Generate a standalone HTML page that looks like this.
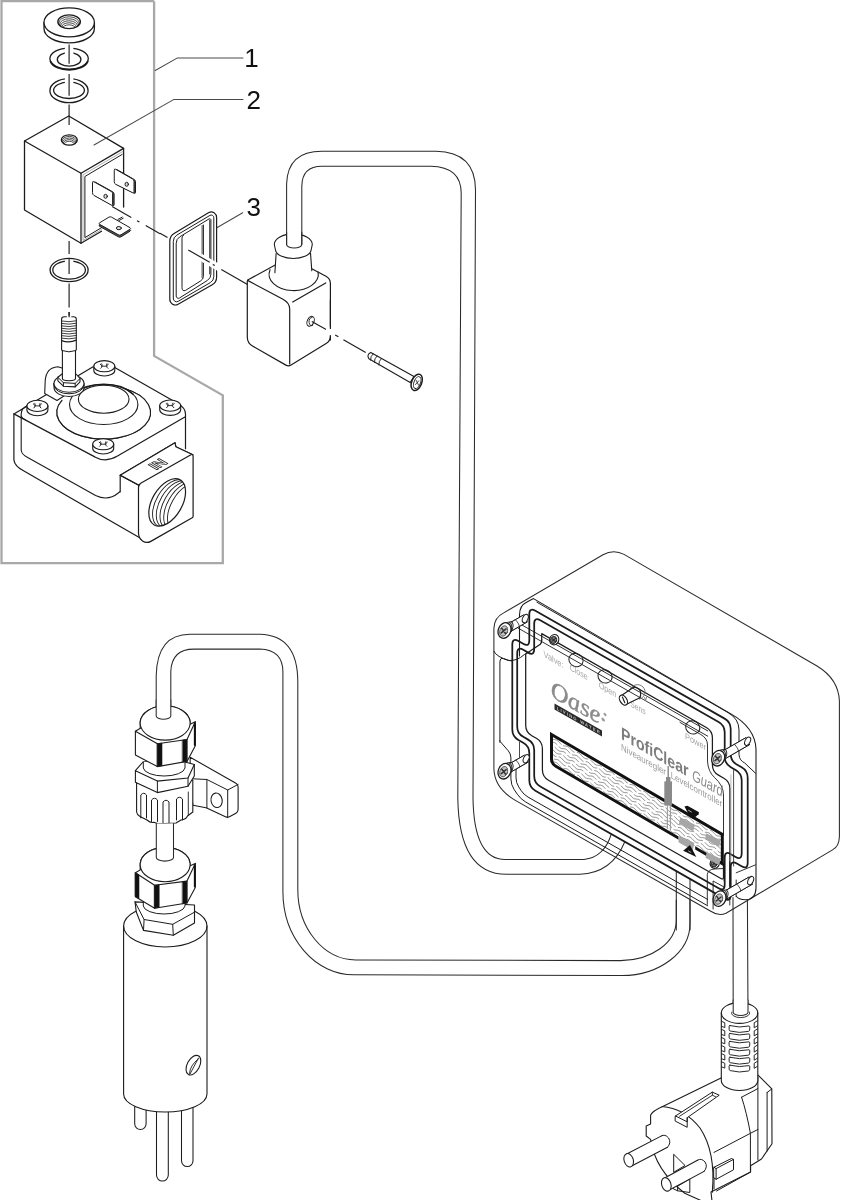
<!DOCTYPE html>
<html><head><meta charset="utf-8"><title>ProfiClear Guard</title>
<style>html,body{margin:0;padding:0;background:#fff}svg{display:block}</style></head>
<body><svg width="865" height="1200" viewBox="0 0 865 1200" stroke-linecap="round" stroke-linejoin="round">
<defs><filter id="nf" x="-5%" y="-5%" width="110%" height="110%"><feOffset dx="0" dy="0"/></filter></defs>
<rect width="865" height="1200" fill="#fff"/>
<path d="M154.10,1.20 L1.50,1.20 L1.50,563.20 L222.80,563.20 L222.80,395.30 L154.10,355.90 L154.10,1.20" fill="none" stroke="#a8a8a8" stroke-width="2.3" stroke-linecap="butt" stroke-linejoin="miter"/>
<path d="M44.0,22.4 L44.0,28.4 A25.2,14.5 0 0 0 94.4,28.4 L94.4,22.4" fill="#fff" stroke="#1c1c1c" stroke-width="1.3" />
<ellipse cx="69.20" cy="22.40" rx="25.20" ry="14.50" fill="#fff" stroke="#1c1c1c" stroke-width="1.3" />
<clipPath id="c691_217"><ellipse cx="69.1" cy="21.7" rx="11.3" ry="6.9"/></clipPath><g clip-path="url(#c691_217)">
<ellipse cx="69.10" cy="23.15" rx="10.40" ry="6.35" fill="none" stroke="#1c1c1c" stroke-width="0.8" />
<ellipse cx="69.10" cy="24.60" rx="9.49" ry="5.80" fill="none" stroke="#1c1c1c" stroke-width="0.8" />
<ellipse cx="69.10" cy="26.05" rx="8.59" ry="5.24" fill="none" stroke="#1c1c1c" stroke-width="0.8" />
<ellipse cx="69.10" cy="27.50" rx="7.68" ry="4.69" fill="none" stroke="#1c1c1c" stroke-width="0.8" />
<ellipse cx="69.10" cy="28.95" rx="6.78" ry="4.14" fill="none" stroke="#1c1c1c" stroke-width="0.8" />
</g>
<ellipse cx="69.10" cy="21.70" rx="11.30" ry="6.90" fill="none" stroke="#1c1c1c" stroke-width="1.3" />
<ellipse cx="69.10" cy="58.60" rx="19.20" ry="10.50" fill="#fff" stroke="#1c1c1c" stroke-width="1.3" />
<path d="M87.68,61.50 A19.00,10.60 0 0 1 50.52,61.50" fill="none" stroke="#1c1c1c" stroke-width="1.8" />
<ellipse cx="69.10" cy="59.40" rx="11.80" ry="6.70" fill="#fff" stroke="#1c1c1c" stroke-width="1.3" />
<line x1="69.10" y1="45.90" x2="69.10" y2="60.80" stroke="#fff" stroke-width="8.5" stroke-linecap="butt"/>
<line x1="69.10" y1="44.40" x2="69.10" y2="63.80" stroke="#1c1c1c" stroke-width="1.15" stroke-linecap="butt"/>
<ellipse cx="69.00" cy="90.65" rx="19.10" ry="12.00" fill="none" stroke="#1c1c1c" stroke-width="1.3" />
<ellipse cx="69.00" cy="90.30" rx="15.40" ry="8.20" fill="none" stroke="#1c1c1c" stroke-width="1.3" />
<line x1="69.10" y1="75.50" x2="69.10" y2="92.70" stroke="#fff" stroke-width="8.5" stroke-linecap="butt"/>
<line x1="69.10" y1="74.00" x2="69.10" y2="95.70" stroke="#1c1c1c" stroke-width="1.15" stroke-linecap="butt"/>
<ellipse cx="69.10" cy="270.00" rx="19.00" ry="11.70" fill="none" stroke="#1c1c1c" stroke-width="1.3" />
<ellipse cx="69.10" cy="270.00" rx="16.30" ry="9.20" fill="none" stroke="#1c1c1c" stroke-width="1.3" />
<line x1="69.10" y1="260.00" x2="69.10" y2="271.00" stroke="#fff" stroke-width="8.5" stroke-linecap="butt"/>
<line x1="69.10" y1="258.50" x2="69.10" y2="274.00" stroke="#1c1c1c" stroke-width="1.15" stroke-linecap="butt"/>
<line x1="69.10" y1="104.50" x2="69.10" y2="116.00" stroke="#1c1c1c" stroke-width="1.15" stroke-linecap="butt"/>
<line x1="69.10" y1="241.00" x2="69.10" y2="254.00" stroke="#1c1c1c" stroke-width="1.15" stroke-linecap="butt"/>
<line x1="69.10" y1="283.50" x2="69.10" y2="307.50" stroke="#1c1c1c" stroke-width="1.15" stroke-linecap="butt"/>
<line x1="69.10" y1="312.00" x2="69.10" y2="317.00" stroke="#1c1c1c" stroke-width="1.15" stroke-linecap="butt"/>
<path d="M123.60,207.00 L123.60,148.40 L68.75,116.00 L24.50,141.00 L24.50,210.00 L81.00,243.30 L101.50,231.30" fill="#fff" stroke="#1c1c1c" stroke-width="1.3" />
<path d="M24.50,141.00 L81.00,173.30 L123.60,148.40" fill="none" stroke="#1c1c1c" stroke-width="1.3" />
<line x1="81.00" y1="173.30" x2="81.00" y2="243.30" stroke="#1c1c1c" stroke-width="1.3" />
<path d="M123.20,151.30 L83.00,174.80 L83.00,240.40 L101.50,229.60" fill="none" stroke="#777" stroke-width="0.6" />
<path d="M122.20,154.40 L84.90,176.50 L84.90,237.60 L101.50,227.70" fill="none" stroke="#1c1c1c" stroke-width="1.0" />
<clipPath id="c693_1400"><ellipse cx="69.3" cy="140" rx="8" ry="5.2"/></clipPath><g clip-path="url(#c693_1400)">
<ellipse cx="69.30" cy="141.20" rx="7.36" ry="4.78" fill="none" stroke="#1c1c1c" stroke-width="0.8" />
<ellipse cx="69.30" cy="142.40" rx="6.72" ry="4.37" fill="none" stroke="#1c1c1c" stroke-width="0.8" />
<ellipse cx="69.30" cy="143.60" rx="6.08" ry="3.95" fill="none" stroke="#1c1c1c" stroke-width="0.8" />
<ellipse cx="69.30" cy="144.80" rx="5.44" ry="3.54" fill="none" stroke="#1c1c1c" stroke-width="0.8" />
</g>
<ellipse cx="69.30" cy="140.00" rx="8.00" ry="5.20" fill="none" stroke="#1c1c1c" stroke-width="1.3" />
<line x1="69.10" y1="117.00" x2="69.10" y2="125.00" stroke="#1c1c1c" stroke-width="1.15" stroke-linecap="butt"/>
<path d="M115.75,170.40 Q115.75,168.90 117.05,169.64 L134.20,179.46 Q135.50,180.20 135.50,181.70 L135.50,192.30 Q135.50,193.80 134.16,193.13 L117.09,184.67 Q115.75,184.00 115.75,182.50 Z" fill="#555" stroke="#1c1c1c" stroke-width="1.0" />
<path d="M114.25,170.00 Q114.25,168.50 115.55,169.24 L132.70,179.06 Q134.00,179.80 134.00,181.30 L134.00,191.90 Q134.00,193.40 132.66,192.73 L115.59,184.27 Q114.25,183.60 114.25,182.10 Z" fill="#fff" stroke="#1c1c1c" stroke-width="1.0" />
<ellipse cx="126.70" cy="184.30" rx="1.70" ry="2.00" fill="#ddd" stroke="#1c1c1c" stroke-width="1.0" />
<path d="M94.00,182.90 Q94.00,181.40 95.31,182.13 L112.79,191.87 Q114.10,192.60 114.10,194.10 L114.10,204.70 Q114.10,206.20 112.79,205.47 L95.31,195.73 Q94.00,195.00 94.00,193.50 Z" fill="#555" stroke="#1c1c1c" stroke-width="1.0" />
<path d="M92.50,182.50 Q92.50,181.00 93.81,181.73 L111.29,191.47 Q112.60,192.20 112.60,193.70 L112.60,204.30 Q112.60,205.80 111.29,205.07 L93.81,195.33 Q92.50,194.60 92.50,193.10 Z" fill="#fff" stroke="#1c1c1c" stroke-width="1.0" />
<ellipse cx="105.60" cy="196.30" rx="1.70" ry="2.00" fill="#ddd" stroke="#1c1c1c" stroke-width="1.0" />
<line x1="117.90" y1="219.50" x2="122.20" y2="217.10" stroke="#1c1c1c" stroke-width="1.0" />
<line x1="118.90" y1="220.60" x2="123.20" y2="218.20" stroke="#1c1c1c" stroke-width="1.0" />
<path d="M99.56,226.33 Q98.25,225.60 99.53,224.83 L108.92,219.17 Q110.20,218.40 111.50,219.14 L130.00,229.66 Q131.30,230.40 130.03,231.20 L121.07,236.80 Q119.80,237.60 118.49,236.87 Z" fill="#555" stroke="#1c1c1c" stroke-width="1.0" />
<path d="M99.56,224.33 Q98.25,223.60 99.53,222.83 L108.92,217.17 Q110.20,216.40 111.50,217.14 L130.00,227.66 Q131.30,228.40 130.03,229.20 L121.07,234.80 Q119.80,235.60 118.49,234.87 Z" fill="#fff" stroke="#1c1c1c" stroke-width="1.0" />
<ellipse cx="118.85" cy="228.10" rx="2.50" ry="1.60" fill="#ddd" stroke="#1c1c1c" stroke-width="1.0" />
<line x1="112.10" y1="206.40" x2="131.30" y2="217.40" stroke="#1c1c1c" stroke-width="1.15" stroke-linecap="butt"/>
<line x1="137.00" y1="220.70" x2="139.40" y2="222.08" stroke="#1c1c1c" stroke-width="1.15" stroke-linecap="butt"/>
<line x1="145.70" y1="225.60" x2="160.00" y2="233.79" stroke="#1c1c1c" stroke-width="1.15" stroke-linecap="butt"/>
<path d="M155.20,70.50 L177.50,57.90 L243.00,57.90" fill="none" stroke="#4a4a4a" stroke-width="1.05" />
<path d="M94.00,145.00 L174.00,99.40 L243.00,99.40" fill="none" stroke="#4a4a4a" stroke-width="1.05" />
<path d="M213.80,229.50 L242.70,212.70" fill="none" stroke="#4a4a4a" stroke-width="1.05" />
<text x="244.30" y="67.00" font-family="Liberation Sans, sans-serif" font-size="26" fill="#111" filter="url(#nf)" >1</text>
<text x="246.60" y="108.70" font-family="Liberation Sans, sans-serif" font-size="26" fill="#111" filter="url(#nf)" >2</text>
<text x="246.60" y="216.30" font-family="Liberation Sans, sans-serif" font-size="26" fill="#111" filter="url(#nf)" >3</text>
<path d="M13.9,413.8 L13.9,459.9 Q14.5,466.5 24.4,471.2 L139.3,537.6 L193.1,517.5 L193.1,455 L186.3,449 L186.3,412 L104,360 Z" fill="#fff" stroke="none" stroke-width="1.2" />
<path d="M13.90,413.90 L95.27,365.41 Q103.00,360.80 110.82,365.26 L178.91,404.15 Q190.20,410.60 179.16,417.47 L115.99,456.76 Q105.80,463.10 95.22,457.44 Z" fill="#fff" stroke="none" stroke-width="0" />
<path d="M184.9,416.9 L117.5,456.1 Q105.8,463.1 94.8,456.9 L13.9,413.9 L95.2,365.4 Q103,360.8 110.8,365.2 L177.5,403.3 Q185.5,407.9 185.5,414 L185.5,448.7" fill="none" stroke="#1c1c1c" stroke-width="1.2" />
<path d="M27.5,405.6 Q21.2,408.5 21.2,414 L21.2,450.2 Q21.6,454.5 27.7,457.5 L95.6,495.5 Q108,501.5 118.3,493 L120.2,491.5" fill="none" stroke="#1c1c1c" stroke-width="1.1" />
<path d="M21.2,416.2 Q22,418.2 26,420.2" fill="none" stroke="#1c1c1c" stroke-width="1.0" />
<path d="M13.9,413.8 L13.9,459.9 Q14.5,466.5 24.4,471.2 L139.3,537.6" fill="none" stroke="#1c1c1c" stroke-width="1.2" />
<path d="M120.2,491.8 L120.2,475.3 L175,442.7 L175.8,446.7 L192.8,454.8" fill="#fff" stroke="#1c1c1c" stroke-width="1.2" />
<path d="M120.2,475.3 L175,442.7 L175.8,446.7 L192.8,454.8 L141,486.5 Z" fill="#fff" stroke="#1c1c1c" stroke-width="1.2" />
<path d="M138.50,487.50 Q138.50,484.50 141.11,483.02 L190.49,454.98 Q193.10,453.50 193.10,456.50 L193.10,516.30 Q193.10,517.30 192.23,517.79 L150.79,541.36 Q146.50,543.80 142.50,540.90 L142.50,540.90 Q138.50,538.00 138.50,533.06 Z" fill="#fff" stroke="#1c1c1c" stroke-width="1.2" />
<path d="M120.2,475.3 L138.9,485.2" fill="none" stroke="#1c1c1c" stroke-width="1.2" />
<clipPath id="thr"><ellipse cx="167.2" cy="502.4" rx="26" ry="15" transform="rotate(-60 167.2 502.4)"/></clipPath><g clip-path="url(#thr)">
<ellipse cx="170.80" cy="503.30" rx="26.00" ry="14.80" fill="none" stroke="#1c1c1c" stroke-width="0.9" transform="rotate(-60 170.80 503.30)" />
<ellipse cx="174.40" cy="504.20" rx="26.00" ry="14.60" fill="none" stroke="#1c1c1c" stroke-width="0.9" transform="rotate(-60 174.40 504.20)" />
<ellipse cx="178.00" cy="505.10" rx="26.00" ry="14.40" fill="none" stroke="#1c1c1c" stroke-width="0.9" transform="rotate(-60 178.00 505.10)" />
<ellipse cx="181.60" cy="506.00" rx="26.00" ry="14.20" fill="none" stroke="#1c1c1c" stroke-width="0.9" transform="rotate(-60 181.60 506.00)" />
<ellipse cx="185.20" cy="506.90" rx="26.00" ry="14.00" fill="none" stroke="#1c1c1c" stroke-width="0.9" transform="rotate(-60 185.20 506.90)" />
</g>
<ellipse cx="167.20" cy="502.40" rx="26.00" ry="15.00" fill="none" stroke="#1c1c1c" stroke-width="1.2" transform="rotate(-60 167.20 502.40)" />
<g filter="url(#nf)"><text transform="matrix(0.866,-0.5,0.866,0.5,156.0,470.2)" font-family="Liberation Sans, sans-serif" font-weight="bold" font-size="14.5" fill="#fff" stroke="#222" stroke-width="0.85">IN</text></g>
<path d="M57.9,366.7 Q46,367.5 45.2,381 L44.7,393.5 L57,400.5 L70,392 L75,372 Z" fill="#fff" stroke="#1c1c1c" stroke-width="1.1" />
<path d="M125.67,389.01 A46.80,26.60 0 1 1 62.00,400.42" fill="#fff" stroke="#1c1c1c" stroke-width="1.1" />
<ellipse cx="103.70" cy="412.50" rx="46.80" ry="26.60" fill="#fff" stroke="none" stroke-width="0" />
<path d="M125.67,389.01 A46.80,26.60 0 1 1 62.00,400.42" fill="none" stroke="#1c1c1c" stroke-width="1.1" />
<ellipse cx="103.70" cy="404.50" rx="34.20" ry="20.00" fill="#fff" stroke="#1c1c1c" stroke-width="1.1" />
<path d="M74.26,394.30 A34.00,20.00 0 0 1 133.14,394.30" fill="none" stroke="#1c1c1c" stroke-width="1.6" />
<ellipse cx="103.70" cy="399.20" rx="25.30" ry="14.00" fill="#fff" stroke="#1c1c1c" stroke-width="1.1" />
<path d="M54,383.4 L54,387.5 A15,9 0 0 0 84,387.5 L84,383.4" fill="#fff" stroke="#1c1c1c" stroke-width="1.1" />
<path d="M54,383.4 L54,385.2 A15,8.6 0 0 0 84,385.2" fill="none" stroke="#1c1c1c" stroke-width="1.0" />
<ellipse cx="69.00" cy="383.40" rx="15.00" ry="8.80" fill="#fff" stroke="#1c1c1c" stroke-width="1.1" />
<path d="M57.90,377.30 L62.00,374.00 L76.00,374.00 L80.00,378.50 L80.00,381.80 L75.20,386.90 L63.40,386.20 L57.90,380.80 Z" fill="#fff" stroke="#1c1c1c" stroke-width="1.1" />
<path d="M57.90,377.30 L63.40,382.70 L75.20,383.40 L80.00,378.50" fill="none" stroke="#1c1c1c" stroke-width="1.0" />
<line x1="63.40" y1="382.70" x2="63.40" y2="386.20" stroke="#1c1c1c" stroke-width="1.0" />
<line x1="75.20" y1="383.40" x2="75.20" y2="386.90" stroke="#1c1c1c" stroke-width="1.0" />
<path d="M62.4,378.5 L62.4,350.8 L61.6,349.5 L61.6,319 Q61.6,316.8 64.5,316.8 L73.5,316.8 Q76.3,316.8 76.3,319 L76.3,349.5 L75.5,350.8 L75.5,378.5 A6.5,2.2 0 0 1 62.4,378.5 Z" fill="#fff" stroke="#1c1c1c" stroke-width="1.1" />
<line x1="66.80" y1="316.80" x2="71.40" y2="316.80" stroke="#fff" stroke-width="2.2" stroke-linecap="butt"/>
<path d="M61.6,321.00 Q69,322.60 76.3,320.80" fill="none" stroke="#1c1c1c" stroke-width="0.85" />
<path d="M61.6,323.45 Q69,325.05 76.3,323.25" fill="none" stroke="#1c1c1c" stroke-width="0.85" />
<path d="M61.6,325.90 Q69,327.50 76.3,325.70" fill="none" stroke="#1c1c1c" stroke-width="0.85" />
<path d="M61.6,328.35 Q69,329.95 76.3,328.15" fill="none" stroke="#1c1c1c" stroke-width="0.85" />
<path d="M61.6,330.80 Q69,332.40 76.3,330.60" fill="none" stroke="#1c1c1c" stroke-width="0.85" />
<path d="M61.6,333.25 Q69,334.85 76.3,333.05" fill="none" stroke="#1c1c1c" stroke-width="0.85" />
<path d="M61.6,335.70 Q69,337.30 76.3,335.50" fill="none" stroke="#1c1c1c" stroke-width="0.85" />
<path d="M61.6,338.15 Q69,339.75 76.3,337.95" fill="none" stroke="#1c1c1c" stroke-width="0.85" />
<path d="M61.6,340.6 Q69,343.2 76.3,340.2" fill="none" stroke="#1c1c1c" stroke-width="1.3" />
<path d="M62,350.6 Q69,353.2 75.8,350.6" fill="none" stroke="#1c1c1c" stroke-width="1.0" />
<line x1="69.10" y1="312.00" x2="69.10" y2="317.30" stroke="#1c1c1c" stroke-width="1.15" stroke-linecap="butt"/>
<path d="M93.80,366.20 L93.80,370.40 A10.5,5.6 0 0 0 114.80,370.40 L114.80,366.20" fill="#fff" stroke="#1c1c1c" stroke-width="1.1" />
<ellipse cx="104.30" cy="366.20" rx="10.50" ry="5.60" fill="#fff" stroke="#1c1c1c" stroke-width="1.1" />
<path d="M100.30,364.20 Q103.70,366.00 100.70,368.30" fill="none" stroke="#1c1c1c" stroke-width="1.0" />
<path d="M108.30,364.20 Q104.90,366.00 107.90,368.30" fill="none" stroke="#1c1c1c" stroke-width="1.0" />
<path d="M101.70,363.60 Q102.90,365.60 102.10,366.20 M106.90,363.60 Q105.70,365.60 106.50,366.20" fill="none" stroke="#1c1c1c" stroke-width="0.8" />
<line x1="102.30" y1="366.20" x2="106.30" y2="366.20" stroke="#1c1c1c" stroke-width="0.9" />
<path d="M26.90,405.90 L26.90,410.10 A10.5,5.6 0 0 0 47.90,410.10 L47.90,405.90" fill="#fff" stroke="#1c1c1c" stroke-width="1.1" />
<ellipse cx="37.40" cy="405.90" rx="10.50" ry="5.60" fill="#fff" stroke="#1c1c1c" stroke-width="1.1" />
<path d="M33.40,403.90 Q36.80,405.70 33.80,408.00" fill="none" stroke="#1c1c1c" stroke-width="1.0" />
<path d="M41.40,403.90 Q38.00,405.70 41.00,408.00" fill="none" stroke="#1c1c1c" stroke-width="1.0" />
<path d="M34.80,403.30 Q36.00,405.30 35.20,405.90 M40.00,403.30 Q38.80,405.30 39.60,405.90" fill="none" stroke="#1c1c1c" stroke-width="0.8" />
<line x1="35.40" y1="405.90" x2="39.40" y2="405.90" stroke="#1c1c1c" stroke-width="0.9" />
<path d="M159.70,405.60 L159.70,409.80 A10.5,5.6 0 0 0 180.70,409.80 L180.70,405.60" fill="#fff" stroke="#1c1c1c" stroke-width="1.1" />
<ellipse cx="170.20" cy="405.60" rx="10.50" ry="5.60" fill="#fff" stroke="#1c1c1c" stroke-width="1.1" />
<path d="M166.20,403.60 Q169.60,405.40 166.60,407.70" fill="none" stroke="#1c1c1c" stroke-width="1.0" />
<path d="M174.20,403.60 Q170.80,405.40 173.80,407.70" fill="none" stroke="#1c1c1c" stroke-width="1.0" />
<path d="M167.60,403.00 Q168.80,405.00 168.00,405.60 M172.80,403.00 Q171.60,405.00 172.40,405.60" fill="none" stroke="#1c1c1c" stroke-width="0.8" />
<line x1="168.20" y1="405.60" x2="172.20" y2="405.60" stroke="#1c1c1c" stroke-width="0.9" />
<path d="M92.70,444.20 L92.70,448.40 A10.5,5.6 0 0 0 113.70,448.40 L113.70,444.20" fill="#fff" stroke="#1c1c1c" stroke-width="1.1" />
<ellipse cx="103.20" cy="444.20" rx="10.50" ry="5.60" fill="#fff" stroke="#1c1c1c" stroke-width="1.1" />
<path d="M99.20,442.20 Q102.60,444.00 99.60,446.30" fill="none" stroke="#1c1c1c" stroke-width="1.0" />
<path d="M107.20,442.20 Q103.80,444.00 106.80,446.30" fill="none" stroke="#1c1c1c" stroke-width="1.0" />
<path d="M100.60,441.60 Q101.80,443.60 101.00,444.20 M105.80,441.60 Q104.60,443.60 105.40,444.20" fill="none" stroke="#1c1c1c" stroke-width="0.8" />
<line x1="101.20" y1="444.20" x2="105.20" y2="444.20" stroke="#1c1c1c" stroke-width="0.9" />
<path d="M169.80,241.20 Q169.80,236.20 174.08,233.61 L208.85,212.60 Q211.50,211.00 214.05,212.75 L214.05,212.75 Q216.60,214.50 216.60,217.59 L216.60,277.30 Q216.60,282.30 212.25,284.77 L178.09,304.21 Q175.30,305.80 172.55,304.15 L172.55,304.15 Q169.80,302.50 169.80,299.29 Z" fill="#fff" stroke="#1c1c1c" stroke-width="1.2" />
<path d="M173.30,241.20 Q173.30,237.20 176.74,235.16 L210.00,215.37 Q211.30,214.60 212.55,215.45 L212.55,215.45 Q213.80,216.30 213.80,217.81 L213.80,276.60 Q213.80,280.60 210.34,282.61 L178.13,301.35 Q176.50,302.30 174.90,301.30 L174.90,301.30 Q173.30,300.30 173.30,298.41 Z" fill="none" stroke="#1c1c1c" stroke-width="1.0" />
<path d="M176.20,243.00 Q176.20,239.00 179.61,236.91 L209.08,218.88 Q209.70,218.50 210.30,218.90 L210.30,218.90 Q210.90,219.30 210.90,220.02 L210.90,274.20 Q210.90,278.20 207.52,280.33 L179.50,298.00 Q178.40,298.70 177.30,298.00 L177.04,297.84 Q176.20,297.30 176.20,296.30 Z" fill="none" stroke="#1c1c1c" stroke-width="1.0" />
<path d="M183.5,235.3 Q182,236.2 182,238 L182,287.5 Q182,291.8 185.5,290.4 L200.5,281.0 Q203.4,279.2 203.4,276.5 L203.4,225" fill="none" stroke="#1c1c1c" stroke-width="1.0" />
<line x1="202.10" y1="225.50" x2="202.10" y2="277.50" stroke="#1c1c1c" stroke-width="0.8" />
<line x1="209.70" y1="220.00" x2="209.70" y2="274.00" stroke="#1c1c1c" stroke-width="0.9" />
<line x1="200.00" y1="256.80" x2="219.50" y2="268.00" stroke="#fff" stroke-width="7" stroke-linecap="butt"/>
<line x1="188.30" y1="250.00" x2="209.70" y2="262.26" stroke="#1c1c1c" stroke-width="1.15" stroke-linecap="butt"/>
<line x1="212.80" y1="264.40" x2="214.80" y2="265.55" stroke="#1c1c1c" stroke-width="1.15" stroke-linecap="butt"/>
<line x1="221.30" y1="269.40" x2="247.50" y2="284.41" stroke="#1c1c1c" stroke-width="1.15" stroke-linecap="butt"/>
<line x1="160.00" y1="233.30" x2="167.50" y2="237.60" stroke="#1c1c1c" stroke-width="1.15" stroke-linecap="butt"/>
<path d="M247.30,281.30 Q247.30,280.30 248.18,279.82 L287.95,257.96 Q289.70,257.00 291.47,257.93 L325.98,276.16 Q330.40,278.50 330.40,283.50 L330.40,336.00 Q330.40,341.00 326.13,343.61 L291.06,365.04 Q288.50,366.60 285.90,365.11 L252.51,345.98 Q247.30,343.00 247.30,337.00 Z" fill="#fff" stroke="#1c1c1c" stroke-width="1.2" />
<path d="M247.6,280.4 L283,299.3 Q289.7,303 289.7,309 L289.7,364" fill="none" stroke="#1c1c1c" stroke-width="1.2" />
<line x1="292.70" y1="302.00" x2="325.70" y2="282.90" stroke="#1c1c1c" stroke-width="1.2" />
<path d="M318.06,271.92 A24.60,16.40 0 1 1 270.05,269.68" fill="none" stroke="#1c1c1c" stroke-width="1.1" />
<path d="M276.1,253.6 L274.9,272.7 Q293,284 311.8,270.8 L310.5,253 Z" fill="#fff" stroke="none" stroke-width="0" />
<path d="M276.1,253.6 L274.9,272.7 M311.8,270.8 L310.5,253" fill="none" stroke="#1c1c1c" stroke-width="1.1" />
<path d="M312.3,244.5 A19,10.6 0 0 0 274.3,244.5 L275.7,251 A17.8,8.8 0 0 0 310.9,251 Z" fill="#fff" stroke="#1c1c1c" stroke-width="1.1" />
<path d="M286.6,232 L286.6,244.5 A7.6,3.6 0 0 0 301.8,244.5 L301.8,232" fill="#fff" stroke="#2a2a2a" stroke-width="1.05" />
<ellipse cx="310.60" cy="321.30" rx="3.30" ry="5.20" fill="none" stroke="#1c1c1c" stroke-width="1.0" transform="rotate(25 310.60 321.30)" />
<path d="M312.90,325.24 A2.60,4.20 0 1 1 312.05,317.46" fill="none" stroke="#1c1c1c" stroke-width="0.9" />
<line x1="311.80" y1="321.60" x2="330.20" y2="331.72" stroke="#1c1c1c" stroke-width="1.15" stroke-linecap="butt"/>
<line x1="335.20" y1="335.00" x2="338.40" y2="336.76" stroke="#1c1c1c" stroke-width="1.15" stroke-linecap="butt"/>
<line x1="343.40" y1="339.70" x2="365.70" y2="352.41" stroke="#1c1c1c" stroke-width="1.15" stroke-linecap="butt"/>
<line x1="329.00" y1="330.00" x2="331.50" y2="334.00" stroke="#fff" stroke-width="6" />
<line x1="330.40" y1="300.00" x2="330.40" y2="328.50" stroke="#1c1c1c" stroke-width="1.2" />
<line x1="330.40" y1="335.50" x2="330.40" y2="340.00" stroke="#1c1c1c" stroke-width="1.2" />
<path d="M370.8,352.4 L414,376.6 L410.2,382.6 L368.9,358.8 Q366.3,354.6 370.8,352.4 Z" fill="#fff" stroke="#1c1c1c" stroke-width="1.1" />
<path d="M373.20,353.77 Q370.20,356.27 370.50,360.18" fill="none" stroke="#1c1c1c" stroke-width="0.9" />
<path d="M377.10,355.96 Q374.10,358.46 374.40,362.41" fill="none" stroke="#1c1c1c" stroke-width="0.9" />
<path d="M381.50,358.42 Q378.50,360.92 378.80,364.92" fill="none" stroke="#1c1c1c" stroke-width="0.9" />
<ellipse cx="416.70" cy="382.40" rx="5.00" ry="8.60" fill="#fff" stroke="#1c1c1c" stroke-width="1.5" transform="rotate(22 416.70 382.40)" />
<ellipse cx="417.20" cy="382.60" rx="3.20" ry="6.20" fill="none" stroke="#1c1c1c" stroke-width="0.9" transform="rotate(22 417.20 382.60)" />
<path d="M415.5,384.5 L418.8,380.8 M416.2,380.4 L418.6,385.2" fill="none" stroke="#1c1c1c" stroke-width="0.8" />
<path d="M493.9,640 L493.9,628.2 Q494.3,617.5 503.3,613.1 L603,554.8 Q613.5,548.8 624,554.4 L817,666 Q838.5,679 839.4,701 L839.4,836.5 Q839.2,846.5 832.5,849.9 L726,913.2 Q718.5,916.5 710.8,911.3 L514.9,800.1 Q494.5,788 493.9,769 Z" fill="#fff" stroke="#2a2a2a" stroke-width="1.05" />
<path d="M286.6,244.5 L286.6,184 Q287.5,151.3 322,151.3 L436,151.3 Q475.5,152 475.5,190 L473,797.7 C473.5,838 484,859.5 505.2,859.5 L584,859.5 Q604,857.5 611.3,834.2" fill="none" stroke="#2a2a2a" stroke-width="1.05" />
<path d="M301.8,244.5 L301.8,186 Q302.2,166.3 322,166.3 L431,166.3 Q461,167 461.2,193 L457.8,797.7 C458.5,850 475,874.3 506.6,874.3 L580,874.3 Q612,873 624.8,841.8" fill="none" stroke="#2a2a2a" stroke-width="1.05" />
<line x1="676.30" y1="871.00" x2="676.30" y2="930.00" stroke="#2a2a2a" stroke-width="1.05" />
<line x1="690.00" y1="879.00" x2="690.00" y2="930.00" stroke="#2a2a2a" stroke-width="1.05" />
<path d="M519.5,656 L519.5,614.9 Q519.5,605.5 527,602 L533.5,598.6 L730.9,713.9 Q755,727.5 756,749 L756,888.2 Q755.5,899.7 745.5,899.7 Q738.5,899.7 736.2,896.3" fill="none" stroke="#1c1c1c" stroke-width="1.1" />
<path d="M536.9,602.2 L728,712.6 Q739,718.8 739,730 L739,754.7 Q739.5,760.5 744.7,763 L755.5,773.2" fill="none" stroke="#1c1c1c" stroke-width="1.0" />
<path d="M493.9,651.3 Q496.5,657 509.1,660.5 Q517,661 524.2,654.7 L526,653.7" fill="none" stroke="#1c1c1c" stroke-width="1.0" />
<path d="M499.9,742.3 L499.9,662 Q500.2,657.3 503.5,658.6 Q508,660.8 512,661" fill="none" stroke="#1c1c1c" stroke-width="1.0" />
<path d="M529.30,614.29 Q529.30,607.29 535.38,610.76 L724.62,718.62 Q730.70,722.09 730.70,729.09 L730.70,754.09 Q730.70,761.09 736.78,764.56 L741.62,767.31 Q747.70,770.78 747.70,777.78 L747.70,862.78 Q747.70,869.78 741.62,866.31 L736.78,863.56 Q730.70,860.09 730.70,867.09 L730.70,895.09 Q730.70,902.09 724.62,898.62 L535.38,790.76 Q529.30,787.29 529.30,780.29 L529.30,753.29 Q529.30,746.29 523.22,742.83 L518.38,740.07 Q512.30,736.60 512.30,729.60 L512.30,644.60 Q512.30,637.60 518.38,641.07 L523.22,643.83 Q529.30,647.29 529.30,640.29 Z" fill="none" stroke="#1c1c1c" stroke-width="1.75" />
<path d="M534.20,623.79 Q534.20,616.79 540.28,620.25 L718.62,721.90 Q724.70,725.37 724.70,732.37 L724.70,756.67 Q724.70,763.67 730.78,767.14 L735.62,769.89 Q741.70,773.36 741.70,780.36 L741.70,853.36 Q741.70,860.36 735.62,856.89 L730.78,854.14 Q724.70,850.67 724.70,857.67 L724.70,884.67 Q724.70,891.67 718.62,888.20 L540.28,786.55 Q534.20,783.09 534.20,776.09 L534.20,750.09 Q534.20,743.09 528.12,739.62 L523.28,736.86 Q517.20,733.39 517.20,726.39 L517.20,653.39 Q517.20,646.39 523.28,649.86 L528.12,652.62 Q534.20,656.09 534.20,649.09 Z" fill="none" stroke="#1c1c1c" stroke-width="1.75" />
<path d="M541.7,639.9 L541.70,633.66 L706.32,727.49 Q712.40,730.96 712.40,737.96 L712.40,764.66 Q712.40,771.66 718.48,775.13 L723.82,778.17 Q729.90,781.63 729.90,788.63 L729.90,886.03 " fill="none" stroke="#1c1c1c" stroke-width="1.25" />
<path d="M723.50,863.99 L723.50,876.99 Q723.50,879.99 720.89,878.50 L548.48,780.23 Q542.40,776.76 542.40,769.76 L542.40,748.76 Q542.40,741.76 536.32,738.29 L531.78,735.71 Q525.70,732.24 525.70,725.24 L525.70,657.24  L525.7,654 L540.3,644.3 Q541.7,643 541.7,640 L541.7,639.9" fill="none" stroke="#1c1c1c" stroke-width="1.25" />
<path d="M499.90,740.53 L499.90,740.88 Q499.90,741.23 500.13,741.50 L508.27,750.79 Q510.90,753.80 510.90,757.80 L510.90,778.80 Q510.90,784.80 514.28,789.76 L517.32,794.23 Q520.70,799.19 525.91,802.16 L707.70,905.78 " fill="none" stroke="#1c1c1c" stroke-width="1.0" />
<path d="M516.00,764.71 L516.00,777.71 Q516.00,782.71 518.72,786.91 L520.98,790.40 Q523.70,794.60 528.04,797.08 L707.70,899.48 " fill="none" stroke="#1c1c1c" stroke-width="1.0" />
<line x1="519.50" y1="742.30" x2="519.50" y2="757.40" stroke="#1c1c1c" stroke-width="0.8" />
<line x1="517.70" y1="622.58" x2="707.70" y2="730.88" stroke="#1c1c1c" stroke-width="0.9" />
<line x1="517.70" y1="627.88" x2="707.70" y2="736.18" stroke="#1c1c1c" stroke-width="0.9" />
<path d="M680,722.4 L700.8,734.5 Q707.5,738.3 707.5,745 L707.5,761 Q708,771.5 714.5,777.5 Q723.5,785.5 723.5,795 L723.5,835" fill="none" stroke="#1c1c1c" stroke-width="0.9" />
<line x1="730.90" y1="775.00" x2="730.90" y2="860.00" stroke="#999" stroke-width="0.7" />
<line x1="729.80" y1="862.00" x2="729.80" y2="905.00" stroke="#1c1c1c" stroke-width="0.9" />
<line x1="724.10" y1="862.00" x2="724.10" y2="881.00" stroke="#1c1c1c" stroke-width="0.9" />
<line x1="733.60" y1="770.00" x2="733.60" y2="866.00" stroke="#1c1c1c" stroke-width="0.8" />
<path d="M736.2,896.3 L736.2,880" fill="none" stroke="#1c1c1c" stroke-width="0.9" />
<line x1="736.20" y1="872.80" x2="755.40" y2="864.90" stroke="#1c1c1c" stroke-width="0.9" />
<path d="M707.3,904.4 L707.3,874.3 Q708.5,869.5 714,869 L724,868.5" fill="none" stroke="#1c1c1c" stroke-width="0.9" />
<path d="M713.1,909 L713.1,881 L724,887" fill="none" stroke="#1c1c1c" stroke-width="0.9" />
<path d="M506.45,633.88 L527.23,621.88 M502.55,627.12 L523.33,615.12" fill="none" stroke="#1c1c1c" stroke-width="1.0" />
<path d="M509.45,632.18 L527.23,621.88 L523.33,615.12 L505.55,625.42 Z" fill="#fff" stroke="none" stroke-width="0" />
<path d="M506.45,633.88 L527.23,621.88 M502.55,627.12 L523.33,615.12" fill="none" stroke="#1c1c1c" stroke-width="1.0" />
<ellipse cx="525.28" cy="618.50" rx="2.60" ry="4.40" fill="#fff" stroke="#1c1c1c" stroke-width="1.0" transform="rotate(25 525.28 618.50)" />
<path d="M515.44,619.68 Q519.59,624.36 519.34,626.44" fill="none" stroke="#1c1c1c" stroke-width="0.8" />
<ellipse cx="509.00" cy="627.90" rx="3.60" ry="6.40" fill="#fff" stroke="#1c1c1c" stroke-width="0.9" transform="rotate(22 509.00 627.90)" />
<ellipse cx="506.70" cy="629.20" rx="4.60" ry="7.40" fill="#fff" stroke="#1c1c1c" stroke-width="0.9" transform="rotate(22 506.70 629.20)" />
<ellipse cx="504.50" cy="630.50" rx="6.20" ry="8.00" fill="#fff" stroke="#1c1c1c" stroke-width="1.3" transform="rotate(22 504.50 630.50)" />
<ellipse cx="503.70" cy="631.00" rx="3.80" ry="5.40" fill="#c4c4c4" stroke="#444" stroke-width="0.8" transform="rotate(22 503.70 631.00)" />
<path d="M501.70,628.30 L505.70,633.70 M501.30,632.90 L506.10,628.90" fill="none" stroke="#333" stroke-width="1.5" />
<path d="M506.45,774.58 L528.10,762.08 M502.55,767.82 L524.20,755.32" fill="none" stroke="#1c1c1c" stroke-width="1.0" />
<path d="M509.45,772.88 L528.10,762.08 L524.20,755.32 L505.55,766.12 Z" fill="#fff" stroke="none" stroke-width="0" />
<path d="M506.45,774.58 L528.10,762.08 M502.55,767.82 L524.20,755.32" fill="none" stroke="#1c1c1c" stroke-width="1.0" />
<ellipse cx="526.15" cy="758.70" rx="2.60" ry="4.40" fill="#fff" stroke="#1c1c1c" stroke-width="1.0" transform="rotate(25 526.15 758.70)" />
<path d="M515.97,760.07 Q520.12,764.75 519.87,766.83" fill="none" stroke="#1c1c1c" stroke-width="0.8" />
<ellipse cx="509.00" cy="768.60" rx="3.60" ry="6.40" fill="#fff" stroke="#1c1c1c" stroke-width="0.9" transform="rotate(22 509.00 768.60)" />
<ellipse cx="506.70" cy="769.90" rx="4.60" ry="7.40" fill="#fff" stroke="#1c1c1c" stroke-width="0.9" transform="rotate(22 506.70 769.90)" />
<ellipse cx="504.50" cy="771.20" rx="6.20" ry="8.00" fill="#fff" stroke="#1c1c1c" stroke-width="1.3" transform="rotate(22 504.50 771.20)" />
<ellipse cx="503.70" cy="771.70" rx="3.80" ry="5.40" fill="#c4c4c4" stroke="#444" stroke-width="0.8" transform="rotate(22 503.70 771.70)" />
<path d="M501.70,769.00 L505.70,774.40 M501.30,773.60 L506.10,769.60" fill="none" stroke="#333" stroke-width="1.5" />
<path d="M720.15,761.58 L749.59,744.58 M716.25,754.82 L745.69,737.82" fill="none" stroke="#1c1c1c" stroke-width="1.0" />
<path d="M723.15,759.88 L749.59,744.58 L745.69,737.82 L719.25,753.12 Z" fill="#fff" stroke="none" stroke-width="0" />
<path d="M720.15,761.58 L749.59,744.58 M716.25,754.82 L745.69,737.82" fill="none" stroke="#1c1c1c" stroke-width="1.0" />
<ellipse cx="747.64" cy="741.20" rx="2.60" ry="4.40" fill="#fff" stroke="#1c1c1c" stroke-width="1.0" transform="rotate(25 747.64 741.20)" />
<path d="M734.51,744.28 Q738.66,748.96 738.41,751.04" fill="none" stroke="#1c1c1c" stroke-width="0.8" />
<ellipse cx="722.70" cy="755.60" rx="3.60" ry="6.40" fill="#fff" stroke="#1c1c1c" stroke-width="0.9" transform="rotate(22 722.70 755.60)" />
<ellipse cx="720.40" cy="756.90" rx="4.60" ry="7.40" fill="#fff" stroke="#1c1c1c" stroke-width="0.9" transform="rotate(22 720.40 756.90)" />
<ellipse cx="718.20" cy="758.20" rx="6.20" ry="8.00" fill="#fff" stroke="#1c1c1c" stroke-width="1.3" transform="rotate(22 718.20 758.20)" />
<ellipse cx="717.40" cy="758.70" rx="3.80" ry="5.40" fill="#c4c4c4" stroke="#444" stroke-width="0.8" transform="rotate(22 717.40 758.70)" />
<path d="M715.40,756.00 L719.40,761.40 M715.00,760.60 L719.80,756.60" fill="none" stroke="#333" stroke-width="1.5" />
<path d="M721.45,901.98 L752.63,883.98 M717.55,895.22 L748.73,877.22" fill="none" stroke="#1c1c1c" stroke-width="1.0" />
<path d="M724.45,900.28 L752.63,883.98 L748.73,877.22 L720.55,893.52 Z" fill="#fff" stroke="none" stroke-width="0" />
<path d="M721.45,901.98 L752.63,883.98 M717.55,895.22 L748.73,877.22" fill="none" stroke="#1c1c1c" stroke-width="1.0" />
<ellipse cx="750.68" cy="880.60" rx="2.60" ry="4.40" fill="#fff" stroke="#1c1c1c" stroke-width="1.0" transform="rotate(25 750.68 880.60)" />
<path d="M736.88,884.06 Q741.03,888.74 740.78,890.82" fill="none" stroke="#1c1c1c" stroke-width="0.8" />
<ellipse cx="724.00" cy="896.00" rx="3.60" ry="6.40" fill="#fff" stroke="#1c1c1c" stroke-width="0.9" transform="rotate(22 724.00 896.00)" />
<ellipse cx="721.70" cy="897.30" rx="4.60" ry="7.40" fill="#fff" stroke="#1c1c1c" stroke-width="0.9" transform="rotate(22 721.70 897.30)" />
<ellipse cx="719.50" cy="898.60" rx="6.20" ry="8.00" fill="#fff" stroke="#1c1c1c" stroke-width="1.3" transform="rotate(22 719.50 898.60)" />
<ellipse cx="718.70" cy="899.10" rx="3.80" ry="5.40" fill="#c4c4c4" stroke="#444" stroke-width="0.8" transform="rotate(22 718.70 899.10)" />
<path d="M716.70,896.40 L720.70,901.80 M716.30,901.00 L721.10,897.00" fill="none" stroke="#333" stroke-width="1.5" />
<ellipse cx="554.20" cy="639.70" rx="4.60" ry="5.20" fill="#fff" stroke="#1c1c1c" stroke-width="1.1" transform="rotate(20 554.20 639.70)" />
<ellipse cx="553.60" cy="640.00" rx="3.00" ry="3.60" fill="#777" stroke="#1c1c1c" stroke-width="0.9" transform="rotate(20 553.60 640.00)" />
<path d="M551.80,638.10 L555.40,641.90 M551.80,641.50 L555.60,638.30" fill="none" stroke="#111" stroke-width="0.9" />
<ellipse cx="714.80" cy="863.20" rx="4.60" ry="5.20" fill="#fff" stroke="#1c1c1c" stroke-width="1.1" transform="rotate(20 714.80 863.20)" />
<ellipse cx="714.20" cy="863.50" rx="3.00" ry="3.60" fill="#777" stroke="#1c1c1c" stroke-width="0.9" transform="rotate(20 714.20 863.50)" />
<path d="M712.40,861.60 L716.00,865.40 M712.40,865.00 L716.20,861.80" fill="none" stroke="#111" stroke-width="0.9" />
<g filter="url(#nf)"><g transform="matrix(1,0.57,0,1,493.7,577.0)">
<text x="49.8" y="51.4" font-family="Liberation Sans, sans-serif" font-size="9" fill="#a4a4a4" textLength="20" lengthAdjust="spacingAndGlyphs" >Valve:</text>
<text x="76" y="49.6" font-family="Liberation Sans, sans-serif" font-size="9" fill="#a4a4a4" textLength="18" lengthAdjust="spacingAndGlyphs" >Close</text>
<text x="105" y="50.6" font-family="Liberation Sans, sans-serif" font-size="9" fill="#a4a4a4" textLength="17.5" lengthAdjust="spacingAndGlyphs" >Open</text>
<text x="136.5" y="51.4" font-family="Liberation Sans, sans-serif" font-size="9" fill="#a4a4a4" textLength="15.5" lengthAdjust="spacingAndGlyphs" >Sens</text>
<text x="191.3" y="52.6" font-family="Liberation Sans, sans-serif" font-size="9" fill="#a4a4a4" textLength="21" lengthAdjust="spacingAndGlyphs" >Power</text>
<text x="57.0" y="87.0" font-family="Liberation Serif, serif" font-style="italic" font-size="25.5" fill="#8a8a8a" stroke="#8a8a8a" stroke-width="0.45" textLength="49.5" lengthAdjust="spacingAndGlyphs">Oase</text>
<circle cx="111.3" cy="74.0" r="1.5" fill="#999"/><circle cx="109.5" cy="80.2" r="1.7" fill="#999"/>
<rect x="60.8" y="91.8" width="47.5" height="6.0" fill="#2a2a2a"/>
<text x="63" y="96.5" font-family="Liberation Sans, sans-serif" font-size="4.2" font-weight="bold" fill="#c8c8c8" textLength="43" lengthAdjust="spacing">LIVING WATER</text>
<text x="127.3" y="89.2" font-family="Liberation Sans, sans-serif" font-size="17.5" fill="#7d7d7d" textLength="67.5" lengthAdjust="spacingAndGlyphs" font-weight="bold">ProfiClear</text>
<text x="198.5" y="89.8" font-family="Liberation Sans, sans-serif" font-size="16" fill="#8a8a8a" textLength="30.5" lengthAdjust="spacingAndGlyphs" font-style="italic">Guard</text>
<text x="127.3" y="100.4" font-family="Liberation Sans, sans-serif" font-size="9.6" fill="#9a9a9a" textLength="45" lengthAdjust="spacingAndGlyphs" >Niveauregler</text>
<text x="177" y="100.0" font-family="Liberation Sans, sans-serif" font-size="9.6" fill="#9a9a9a" textLength="51.5" lengthAdjust="spacingAndGlyphs" >Levelcontroller</text>
</g></g>
<ellipse cx="576.00" cy="660.01" rx="7.30" ry="6.40" fill="none" stroke="#222" stroke-width="1.0" transform="rotate(28 576.00 660.01)" />
<ellipse cx="605.00" cy="676.44" rx="7.30" ry="6.40" fill="none" stroke="#222" stroke-width="1.0" transform="rotate(28 605.00 676.44)" />
<ellipse cx="692.70" cy="727.43" rx="7.30" ry="6.40" fill="none" stroke="#222" stroke-width="1.0" transform="rotate(28 692.70 727.43)" />
<path d="M629.97,689.47 A7.80,7.40 0 1 1 639.32,699.15" fill="none" stroke="#777" stroke-width="1.0" />
<path d="M644.6,697.5 L645.6,700.6 L646.6,697.2" fill="none" stroke="#777" stroke-width="0.9" />
<line x1="621.10" y1="695.70" x2="633.60" y2="687.30" stroke="#1c1c1c" stroke-width="1.15" />
<line x1="625.60" y1="704.70" x2="639.80" y2="697.70" stroke="#1c1c1c" stroke-width="1.15" />
<path d="M633.6,687.3 Q640,687.5 640.6,692.5 Q641,696 639.8,697.7" fill="none" stroke="#1c1c1c" stroke-width="1.15" />
<ellipse cx="623.40" cy="700.10" rx="3.40" ry="5.50" fill="#fff" stroke="#1c1c1c" stroke-width="1.2" transform="rotate(-32 623.40 700.10)" />
<line x1="622.40" y1="697.00" x2="624.80" y2="702.80" stroke="#1c1c1c" stroke-width="1.1" />
<clipPath id="dsp"><path d="M550.2,732.8050000000001 L723.5,834.1855 L723.5,865.8855000000001 L550.2,764.5050000000001 Z"/></clipPath><g clip-path="url(#dsp)">
<path d="M550.2,737.9 L551.2,738.7 L552.2,739.2 L553.2,739.5 L554.2,739.5 L555.2,739.6 L556.2,739.9 L557.2,740.4 L558.2,741.2 L559.2,742.2 L560.2,743.3 L561.2,744.4 L562.2,745.2 L563.2,745.7 L564.2,745.9 L565.2,746.0 L566.2,746.1 L567.2,746.3 L568.2,746.8 L569.2,747.6 L570.2,748.6 L571.2,749.8 L572.2,750.8 L573.2,751.6 L574.2,752.1 L575.2,752.3 L576.2,752.4 L577.2,752.5 L578.2,752.7 L579.2,753.2 L580.2,754.0 L581.2,755.1 L582.2,756.2 L583.2,757.2 L584.2,758.0 L585.2,758.5 L586.2,758.8 L587.2,758.9 L588.2,758.9 L589.2,759.2 L590.2,759.7 L591.2,760.5 L592.2,761.5 L593.2,762.6 L594.2,763.7 L595.2,764.5 L596.2,765.0 L597.2,765.2 L598.2,765.3 L599.2,765.4 L600.2,765.6 L601.2,766.1 L602.2,766.9 L603.2,767.9 L604.2,769.1 L605.2,770.1 L606.2,770.9 L607.2,771.4 L608.2,771.6 L609.2,771.7 L610.2,771.8 L611.2,772.0 L612.2,772.5 L613.2,773.3 L614.2,774.4 L615.2,775.5 L616.2,776.5 L617.2,777.3 L618.2,777.8 L619.2,778.1 L620.2,778.2 L621.2,778.2 L622.2,778.5 L623.2,779.0 L624.2,779.8 L625.2,780.8 L626.2,781.9 L627.2,783.0 L628.2,783.8 L629.2,784.3 L630.2,784.5 L631.2,784.6 L632.2,784.7 L633.2,784.9 L634.2,785.4 L635.2,786.2 L636.2,787.2 L637.2,788.4 L638.2,789.4 L639.2,790.2 L640.2,790.7 L641.2,791.0 L642.2,791.0 L643.2,791.1 L644.2,791.3 L645.2,791.8 L646.2,792.6 L647.2,793.7 L648.2,794.8 L649.2,795.8 L650.2,796.6 L651.2,797.2 L652.2,797.4 L653.2,797.5 L654.2,797.5 L655.2,797.8 L656.2,798.3 L657.2,799.1 L658.2,800.1 L659.2,801.2 L660.2,802.3 L661.2,803.1 L662.2,803.6 L663.2,803.8 L664.2,803.9 L665.2,804.0 L666.2,804.2 L667.2,804.7 L668.2,805.5 L669.2,806.6 L670.2,807.7 L671.2,808.7 L672.2,809.5 L673.2,810.0 L674.2,810.3 L675.2,810.3 L676.2,810.4 L677.2,810.6 L678.2,811.1 L679.2,812.0 L680.2,813.0 L681.2,814.1 L682.2,815.1 L683.2,816.0 L684.2,816.5 L685.2,816.7 L686.2,816.8 L687.2,816.8 L688.2,817.1 L689.2,817.6 L690.2,818.4 L691.2,819.4 L692.2,820.5 L693.2,821.6 L694.2,822.4 L695.2,822.9 L696.2,823.1 L697.2,823.2 L698.2,823.3 L699.2,823.5 L700.2,824.0 L701.2,824.8 L702.2,825.9 L703.2,827.0 L704.2,828.0 L705.2,828.8 L706.2,829.3 L707.2,829.6 L708.2,829.6 L709.2,829.7 L710.2,829.9 L711.2,830.4 L712.2,831.3 L713.2,832.3 L714.2,833.4 L715.2,834.4 L716.2,835.3 L717.2,835.8 L718.2,836.0 L719.2,836.1 L720.2,836.1 L721.2,836.4 L722.2,836.9 L723.2,837.7 " fill="none" stroke="#7c7c7c" stroke-width="0.85" stroke-dasharray="13 3" stroke-dashoffset="0.0"/>
<path d="M550.2,741.9 L551.2,742.1 L552.2,742.2 L553.2,742.3 L554.2,742.5 L555.2,743.0 L556.2,743.8 L557.2,744.8 L558.2,745.9 L559.2,747.0 L560.2,747.8 L561.2,748.3 L562.2,748.6 L563.2,748.7 L564.2,748.7 L565.2,748.9 L566.2,749.4 L567.2,750.2 L568.2,751.2 L569.2,752.3 L570.2,753.4 L571.2,754.2 L572.2,754.8 L573.2,755.0 L574.2,755.1 L575.2,755.2 L576.2,755.4 L577.2,755.9 L578.2,756.6 L579.2,757.7 L580.2,758.8 L581.2,759.8 L582.2,760.7 L583.2,761.2 L584.2,761.4 L585.2,761.5 L586.2,761.6 L587.2,761.8 L588.2,762.3 L589.2,763.1 L590.2,764.1 L591.2,765.2 L592.2,766.3 L593.2,767.1 L594.2,767.6 L595.2,767.9 L596.2,768.0 L597.2,768.0 L598.2,768.2 L599.2,768.7 L600.2,769.5 L601.2,770.5 L602.2,771.7 L603.2,772.7 L604.2,773.5 L605.2,774.1 L606.2,774.3 L607.2,774.4 L608.2,774.5 L609.2,774.7 L610.2,775.2 L611.2,775.9 L612.2,777.0 L613.2,778.1 L614.2,779.1 L615.2,780.0 L616.2,780.5 L617.2,780.7 L618.2,780.8 L619.2,780.9 L620.2,781.1 L621.2,781.6 L622.2,782.4 L623.2,783.4 L624.2,784.5 L625.2,785.6 L626.2,786.4 L627.2,786.9 L628.2,787.2 L629.2,787.3 L630.2,787.3 L631.2,787.5 L632.2,788.0 L633.2,788.8 L634.2,789.8 L635.2,791.0 L636.2,792.0 L637.2,792.8 L638.2,793.4 L639.2,793.6 L640.2,793.7 L641.2,793.8 L642.2,794.0 L643.2,794.5 L644.2,795.3 L645.2,796.3 L646.2,797.4 L647.2,798.4 L648.2,799.3 L649.2,799.8 L650.2,800.1 L651.2,800.1 L652.2,800.2 L653.2,800.4 L654.2,800.9 L655.2,801.7 L656.2,802.7 L657.2,803.8 L658.2,804.9 L659.2,805.7 L660.2,806.2 L661.2,806.5 L662.2,806.6 L663.2,806.6 L664.2,806.8 L665.2,807.3 L666.2,808.1 L667.2,809.1 L668.2,810.3 L669.2,811.3 L670.2,812.1 L671.2,812.7 L672.2,812.9 L673.2,813.0 L674.2,813.1 L675.2,813.3 L676.2,813.8 L677.2,814.6 L678.2,815.6 L679.2,816.7 L680.2,817.7 L681.2,818.6 L682.2,819.1 L683.2,819.4 L684.2,819.4 L685.2,819.5 L686.2,819.7 L687.2,820.2 L688.2,821.0 L689.2,822.0 L690.2,823.1 L691.2,824.2 L692.2,825.0 L693.2,825.5 L694.2,825.8 L695.2,825.9 L696.2,825.9 L697.2,826.2 L698.2,826.6 L699.2,827.4 L700.2,828.4 L701.2,829.6 L702.2,830.6 L703.2,831.4 L704.2,832.0 L705.2,832.2 L706.2,832.3 L707.2,832.4 L708.2,832.6 L709.2,833.1 L710.2,833.9 L711.2,834.9 L712.2,836.0 L713.2,837.1 L714.2,837.9 L715.2,838.4 L716.2,838.7 L717.2,838.7 L718.2,838.8 L719.2,839.0 L720.2,839.5 L721.2,840.3 L722.2,841.3 L723.2,842.4 " fill="none" stroke="#7c7c7c" stroke-width="0.85" stroke-dasharray="13 3" stroke-dashoffset="5.3"/>
<path d="M550.2,744.9 L551.2,744.9 L552.2,745.1 L553.2,745.6 L554.2,746.4 L555.2,747.4 L556.2,748.5 L557.2,749.6 L558.2,750.4 L559.2,751.0 L560.2,751.2 L561.2,751.3 L562.2,751.4 L563.2,751.6 L564.2,752.0 L565.2,752.8 L566.2,753.8 L567.2,754.9 L568.2,756.0 L569.2,756.8 L570.2,757.4 L571.2,757.7 L572.2,757.8 L573.2,757.8 L574.2,758.0 L575.2,758.5 L576.2,759.2 L577.2,760.3 L578.2,761.4 L579.2,762.4 L580.2,763.3 L581.2,763.8 L582.2,764.1 L583.2,764.2 L584.2,764.3 L585.2,764.5 L586.2,764.9 L587.2,765.7 L588.2,766.7 L589.2,767.8 L590.2,768.9 L591.2,769.7 L592.2,770.3 L593.2,770.5 L594.2,770.6 L595.2,770.7 L596.2,770.9 L597.2,771.4 L598.2,772.1 L599.2,773.1 L600.2,774.2 L601.2,775.3 L602.2,776.2 L603.2,776.7 L604.2,777.0 L605.2,777.1 L606.2,777.1 L607.2,777.3 L608.2,777.8 L609.2,778.6 L610.2,779.6 L611.2,780.7 L612.2,781.7 L613.2,782.6 L614.2,783.1 L615.2,783.4 L616.2,783.5 L617.2,783.6 L618.2,783.8 L619.2,784.2 L620.2,785.0 L621.2,786.0 L622.2,787.1 L623.2,788.2 L624.2,789.0 L625.2,789.6 L626.2,789.8 L627.2,789.9 L628.2,790.0 L629.2,790.2 L630.2,790.7 L631.2,791.4 L632.2,792.4 L633.2,793.5 L634.2,794.6 L635.2,795.5 L636.2,796.0 L637.2,796.3 L638.2,796.4 L639.2,796.4 L640.2,796.6 L641.2,797.1 L642.2,797.9 L643.2,798.9 L644.2,800.0 L645.2,801.0 L646.2,801.9 L647.2,802.4 L648.2,802.7 L649.2,802.8 L650.2,802.9 L651.2,803.1 L652.2,803.5 L653.2,804.3 L654.2,805.3 L655.2,806.4 L656.2,807.5 L657.2,808.3 L658.2,808.9 L659.2,809.1 L660.2,809.2 L661.2,809.3 L662.2,809.5 L663.2,810.0 L664.2,810.7 L665.2,811.7 L666.2,812.9 L667.2,813.9 L668.2,814.8 L669.2,815.3 L670.2,815.6 L671.2,815.7 L672.2,815.7 L673.2,815.9 L674.2,816.4 L675.2,817.2 L676.2,818.2 L677.2,819.3 L678.2,820.3 L679.2,821.2 L680.2,821.7 L681.2,822.0 L682.2,822.1 L683.2,822.2 L684.2,822.4 L685.2,822.8 L686.2,823.6 L687.2,824.6 L688.2,825.7 L689.2,826.8 L690.2,827.6 L691.2,828.2 L692.2,828.5 L693.2,828.5 L694.2,828.6 L695.2,828.8 L696.2,829.3 L697.2,830.0 L698.2,831.0 L699.2,832.2 L700.2,833.2 L701.2,834.1 L702.2,834.6 L703.2,834.9 L704.2,835.0 L705.2,835.0 L706.2,835.2 L707.2,835.7 L708.2,836.5 L709.2,837.5 L710.2,838.6 L711.2,839.7 L712.2,840.5 L713.2,841.1 L714.2,841.3 L715.2,841.4 L716.2,841.5 L717.2,841.7 L718.2,842.1 L719.2,842.9 L720.2,843.9 L721.2,845.0 L722.2,846.1 L723.2,846.9 " fill="none" stroke="#7c7c7c" stroke-width="0.85" stroke-dasharray="13 3" stroke-dashoffset="10.6"/>
<path d="M550.2,747.8 L551.2,748.2 L552.2,749.0 L553.2,750.0 L554.2,751.1 L555.2,752.2 L556.2,753.0 L557.2,753.6 L558.2,753.9 L559.2,754.0 L560.2,754.0 L561.2,754.2 L562.2,754.7 L563.2,755.4 L564.2,756.4 L565.2,757.5 L566.2,758.6 L567.2,759.5 L568.2,760.0 L569.2,760.3 L570.2,760.4 L571.2,760.5 L572.2,760.7 L573.2,761.1 L574.2,761.9 L575.2,762.8 L576.2,764.0 L577.2,765.0 L578.2,765.9 L579.2,766.5 L580.2,766.8 L581.2,766.9 L582.2,766.9 L583.2,767.1 L584.2,767.5 L585.2,768.3 L586.2,769.3 L587.2,770.4 L588.2,771.5 L589.2,772.3 L590.2,772.9 L591.2,773.2 L592.2,773.3 L593.2,773.4 L594.2,773.5 L595.2,774.0 L596.2,774.7 L597.2,775.7 L598.2,776.8 L599.2,777.9 L600.2,778.8 L601.2,779.3 L602.2,779.6 L603.2,779.7 L604.2,779.8 L605.2,780.0 L606.2,780.4 L607.2,781.2 L608.2,782.2 L609.2,783.3 L610.2,784.3 L611.2,785.2 L612.2,785.8 L613.2,786.1 L614.2,786.2 L615.2,786.2 L616.2,786.4 L617.2,786.9 L618.2,787.6 L619.2,788.6 L620.2,789.7 L621.2,790.8 L622.2,791.6 L623.2,792.2 L624.2,792.5 L625.2,792.6 L626.2,792.7 L627.2,792.8 L628.2,793.3 L629.2,794.0 L630.2,795.0 L631.2,796.1 L632.2,797.2 L633.2,798.1 L634.2,798.7 L635.2,798.9 L636.2,799.0 L637.2,799.1 L638.2,799.3 L639.2,799.7 L640.2,800.5 L641.2,801.5 L642.2,802.6 L643.2,803.6 L644.2,804.5 L645.2,805.1 L646.2,805.4 L647.2,805.5 L648.2,805.5 L649.2,805.7 L650.2,806.2 L651.2,806.9 L652.2,807.9 L653.2,809.0 L654.2,810.1 L655.2,810.9 L656.2,811.5 L657.2,811.8 L658.2,811.9 L659.2,812.0 L660.2,812.1 L661.2,812.6 L662.2,813.3 L663.2,814.3 L664.2,815.4 L665.2,816.5 L666.2,817.4 L667.2,818.0 L668.2,818.2 L669.2,818.3 L670.2,818.4 L671.2,818.6 L672.2,819.0 L673.2,819.8 L674.2,820.8 L675.2,821.9 L676.2,822.9 L677.2,823.8 L678.2,824.4 L679.2,824.7 L680.2,824.8 L681.2,824.8 L682.2,825.0 L683.2,825.5 L684.2,826.2 L685.2,827.2 L686.2,828.3 L687.2,829.4 L688.2,830.3 L689.2,830.8 L690.2,831.1 L691.2,831.2 L692.2,831.3 L693.2,831.5 L694.2,831.9 L695.2,832.6 L696.2,833.6 L697.2,834.7 L698.2,835.8 L699.2,836.7 L700.2,837.3 L701.2,837.6 L702.2,837.6 L703.2,837.7 L704.2,837.9 L705.2,838.3 L706.2,839.1 L707.2,840.1 L708.2,841.2 L709.2,842.3 L710.2,843.1 L711.2,843.7 L712.2,844.0 L713.2,844.1 L714.2,844.1 L715.2,844.3 L716.2,844.8 L717.2,845.5 L718.2,846.5 L719.2,847.6 L720.2,848.7 L721.2,849.6 L722.2,850.1 L723.2,850.4 " fill="none" stroke="#7c7c7c" stroke-width="0.85" stroke-dasharray="13 3" stroke-dashoffset="15.9"/>
<path d="M550.2,751.6 L551.2,752.6 L552.2,753.7 L553.2,754.8 L554.2,755.6 L555.2,756.2 L556.2,756.6 L557.2,756.7 L558.2,756.7 L559.2,756.9 L560.2,757.3 L561.2,758.0 L562.2,759.0 L563.2,760.1 L564.2,761.2 L565.2,762.1 L566.2,762.7 L567.2,763.0 L568.2,763.1 L569.2,763.1 L570.2,763.3 L571.2,763.7 L572.2,764.5 L573.2,765.4 L574.2,766.6 L575.2,767.6 L576.2,768.5 L577.2,769.1 L578.2,769.4 L579.2,769.5 L580.2,769.6 L581.2,769.8 L582.2,770.2 L583.2,770.9 L584.2,771.9 L585.2,773.0 L586.2,774.1 L587.2,775.0 L588.2,775.6 L589.2,775.9 L590.2,776.0 L591.2,776.0 L592.2,776.2 L593.2,776.6 L594.2,777.3 L595.2,778.3 L596.2,779.4 L597.2,780.5 L598.2,781.4 L599.2,782.0 L600.2,782.3 L601.2,782.4 L602.2,782.5 L603.2,782.6 L604.2,783.0 L605.2,783.8 L606.2,784.7 L607.2,785.9 L608.2,786.9 L609.2,787.8 L610.2,788.4 L611.2,788.7 L612.2,788.8 L613.2,788.9 L614.2,789.1 L615.2,789.5 L616.2,790.2 L617.2,791.2 L618.2,792.3 L619.2,793.4 L620.2,794.3 L621.2,794.9 L622.2,795.2 L623.2,795.3 L624.2,795.3 L625.2,795.5 L626.2,795.9 L627.2,796.6 L628.2,797.6 L629.2,798.7 L630.2,799.8 L631.2,800.7 L632.2,801.3 L633.2,801.6 L634.2,801.7 L635.2,801.8 L636.2,801.9 L637.2,802.4 L638.2,803.1 L639.2,804.1 L640.2,805.2 L641.2,806.2 L642.2,807.1 L643.2,807.7 L644.2,808.0 L645.2,808.1 L646.2,808.2 L647.2,808.4 L648.2,808.8 L649.2,809.5 L650.2,810.5 L651.2,811.6 L652.2,812.7 L653.2,813.6 L654.2,814.2 L655.2,814.5 L656.2,814.6 L657.2,814.6 L658.2,814.8 L659.2,815.2 L660.2,815.9 L661.2,816.9 L662.2,818.0 L663.2,819.1 L664.2,820.0 L665.2,820.6 L666.2,820.9 L667.2,821.0 L668.2,821.1 L669.2,821.2 L670.2,821.7 L671.2,822.4 L672.2,823.4 L673.2,824.5 L674.2,825.5 L675.2,826.4 L676.2,827.0 L677.2,827.3 L678.2,827.4 L679.2,827.5 L680.2,827.7 L681.2,828.1 L682.2,828.8 L683.2,829.8 L684.2,830.9 L685.2,832.0 L686.2,832.9 L687.2,833.5 L688.2,833.8 L689.2,833.9 L690.2,833.9 L691.2,834.1 L692.2,834.5 L693.2,835.2 L694.2,836.2 L695.2,837.3 L696.2,838.4 L697.2,839.3 L698.2,839.9 L699.2,840.2 L700.2,840.3 L701.2,840.4 L702.2,840.5 L703.2,841.0 L704.2,841.7 L705.2,842.7 L706.2,843.8 L707.2,844.9 L708.2,845.7 L709.2,846.3 L710.2,846.6 L711.2,846.8 L712.2,846.8 L713.2,847.0 L714.2,847.4 L715.2,848.1 L716.2,849.1 L717.2,850.2 L718.2,851.3 L719.2,852.2 L720.2,852.8 L721.2,853.1 L722.2,853.2 L723.2,853.2 " fill="none" stroke="#7c7c7c" stroke-width="0.85" stroke-dasharray="13 3" stroke-dashoffset="21.2"/>
<path d="M550.2,756.3 L551.2,757.4 L552.2,758.3 L553.2,758.9 L554.2,759.2 L555.2,759.3 L556.2,759.4 L557.2,759.5 L558.2,759.9 L559.2,760.6 L560.2,761.6 L561.2,762.7 L562.2,763.8 L563.2,764.7 L564.2,765.3 L565.2,765.7 L566.2,765.8 L567.2,765.8 L568.2,766.0 L569.2,766.4 L570.2,767.1 L571.2,768.0 L572.2,769.1 L573.2,770.2 L574.2,771.1 L575.2,771.8 L576.2,772.1 L577.2,772.2 L578.2,772.3 L579.2,772.4 L580.2,772.8 L581.2,773.5 L582.2,774.5 L583.2,775.6 L584.2,776.7 L585.2,777.6 L586.2,778.2 L587.2,778.5 L588.2,778.6 L589.2,778.7 L590.2,778.8 L591.2,779.2 L592.2,779.9 L593.2,780.9 L594.2,782.0 L595.2,783.1 L596.2,784.0 L597.2,784.6 L598.2,785.0 L599.2,785.1 L600.2,785.1 L601.2,785.3 L602.2,785.7 L603.2,786.4 L604.2,787.3 L605.2,788.4 L606.2,789.5 L607.2,790.4 L608.2,791.1 L609.2,791.4 L610.2,791.5 L611.2,791.6 L612.2,791.7 L613.2,792.1 L614.2,792.8 L615.2,793.8 L616.2,794.9 L617.2,796.0 L618.2,796.9 L619.2,797.5 L620.2,797.8 L621.2,797.9 L622.2,798.0 L623.2,798.1 L624.2,798.5 L625.2,799.2 L626.2,800.2 L627.2,801.3 L628.2,802.4 L629.2,803.3 L630.2,803.9 L631.2,804.3 L632.2,804.4 L633.2,804.4 L634.2,804.6 L635.2,805.0 L636.2,805.7 L637.2,806.6 L638.2,807.8 L639.2,808.8 L640.2,809.7 L641.2,810.4 L642.2,810.7 L643.2,810.8 L644.2,810.9 L645.2,811.0 L646.2,811.4 L647.2,812.1 L648.2,813.1 L649.2,814.2 L650.2,815.3 L651.2,816.2 L652.2,816.8 L653.2,817.1 L654.2,817.2 L655.2,817.3 L656.2,817.5 L657.2,817.9 L658.2,818.6 L659.2,819.5 L660.2,820.6 L661.2,821.7 L662.2,822.6 L663.2,823.2 L664.2,823.6 L665.2,823.7 L666.2,823.7 L667.2,823.9 L668.2,824.3 L669.2,825.0 L670.2,826.0 L671.2,827.1 L672.2,828.1 L673.2,829.1 L674.2,829.7 L675.2,830.0 L676.2,830.1 L677.2,830.2 L678.2,830.3 L679.2,830.7 L680.2,831.4 L681.2,832.4 L682.2,833.5 L683.2,834.6 L684.2,835.5 L685.2,836.1 L686.2,836.4 L687.2,836.5 L688.2,836.6 L689.2,836.8 L690.2,837.2 L691.2,837.9 L692.2,838.8 L693.2,839.9 L694.2,841.0 L695.2,841.9 L696.2,842.5 L697.2,842.9 L698.2,843.0 L699.2,843.0 L700.2,843.2 L701.2,843.6 L702.2,844.3 L703.2,845.3 L704.2,846.4 L705.2,847.5 L706.2,848.4 L707.2,849.0 L708.2,849.3 L709.2,849.4 L710.2,849.5 L711.2,849.6 L712.2,850.0 L713.2,850.7 L714.2,851.7 L715.2,852.8 L716.2,853.9 L717.2,854.8 L718.2,855.4 L719.2,855.7 L720.2,855.9 L721.2,855.9 L722.2,856.1 L723.2,856.5 " fill="none" stroke="#7c7c7c" stroke-width="0.85" stroke-dasharray="13 3" stroke-dashoffset="26.5"/>
<path d="M550.2,760.9 L551.2,761.5 L552.2,761.9 L553.2,762.0 L554.2,762.0 L555.2,762.2 L556.2,762.6 L557.2,763.2 L558.2,764.2 L559.2,765.3 L560.2,766.4 L561.2,767.3 L562.2,768.0 L563.2,768.3 L564.2,768.4 L565.2,768.5 L566.2,768.6 L567.2,769.0 L568.2,769.7 L569.2,770.6 L570.2,771.7 L571.2,772.8 L572.2,773.8 L573.2,774.4 L574.2,774.7 L575.2,774.9 L576.2,774.9 L577.2,775.1 L578.2,775.4 L579.2,776.1 L580.2,777.1 L581.2,778.2 L582.2,779.3 L583.2,780.2 L584.2,780.8 L585.2,781.2 L586.2,781.3 L587.2,781.4 L588.2,781.5 L589.2,781.9 L590.2,782.6 L591.2,783.5 L592.2,784.6 L593.2,785.7 L594.2,786.6 L595.2,787.3 L596.2,787.6 L597.2,787.7 L598.2,787.8 L599.2,787.9 L600.2,788.3 L601.2,789.0 L602.2,789.9 L603.2,791.0 L604.2,792.1 L605.2,793.1 L606.2,793.7 L607.2,794.0 L608.2,794.2 L609.2,794.2 L610.2,794.4 L611.2,794.7 L612.2,795.4 L613.2,796.4 L614.2,797.5 L615.2,798.6 L616.2,799.5 L617.2,800.1 L618.2,800.5 L619.2,800.6 L620.2,800.7 L621.2,800.8 L622.2,801.2 L623.2,801.9 L624.2,802.8 L625.2,803.9 L626.2,805.0 L627.2,805.9 L628.2,806.6 L629.2,806.9 L630.2,807.0 L631.2,807.1 L632.2,807.2 L633.2,807.6 L634.2,808.3 L635.2,809.2 L636.2,810.3 L637.2,811.4 L638.2,812.4 L639.2,813.0 L640.2,813.4 L641.2,813.5 L642.2,813.5 L643.2,813.7 L644.2,814.1 L645.2,814.7 L646.2,815.7 L647.2,816.8 L648.2,817.9 L649.2,818.8 L650.2,819.4 L651.2,819.8 L652.2,819.9 L653.2,820.0 L654.2,820.1 L655.2,820.5 L656.2,821.2 L657.2,822.1 L658.2,823.2 L659.2,824.3 L660.2,825.2 L661.2,825.9 L662.2,826.2 L663.2,826.3 L664.2,826.4 L665.2,826.5 L666.2,826.9 L667.2,827.6 L668.2,828.5 L669.2,829.6 L670.2,830.7 L671.2,831.7 L672.2,832.3 L673.2,832.7 L674.2,832.8 L675.2,832.8 L676.2,833.0 L677.2,833.4 L678.2,834.0 L679.2,835.0 L680.2,836.1 L681.2,837.2 L682.2,838.1 L683.2,838.7 L684.2,839.1 L685.2,839.2 L686.2,839.3 L687.2,839.4 L688.2,839.8 L689.2,840.5 L690.2,841.4 L691.2,842.5 L692.2,843.6 L693.2,844.5 L694.2,845.2 L695.2,845.5 L696.2,845.7 L697.2,845.7 L698.2,845.8 L699.2,846.2 L700.2,846.9 L701.2,847.9 L702.2,849.0 L703.2,850.0 L704.2,851.0 L705.2,851.6 L706.2,852.0 L707.2,852.1 L708.2,852.1 L709.2,852.3 L710.2,852.7 L711.2,853.3 L712.2,854.3 L713.2,855.4 L714.2,856.5 L715.2,857.4 L716.2,858.1 L717.2,858.4 L718.2,858.5 L719.2,858.6 L720.2,858.7 L721.2,859.1 L722.2,859.8 L723.2,860.7 " fill="none" stroke="#7c7c7c" stroke-width="0.85" stroke-dasharray="13 3" stroke-dashoffset="31.8"/>
</g>
<path d="M551.50,734.47 L722.30,834.38 L722.30,863.68 L555.82,766.29 Q551.50,763.77 551.50,758.77 Z" fill="none" stroke="#111" stroke-width="3.0" stroke-linejoin="miter"/>
<path d="M678.50,836.36 L695.20,846.13 L695.20,849.93 L678.50,840.16 Z" fill="#fff" stroke="none" stroke-width="0" />
<path d="M679.50,835.85 L694.20,842.95 L692.70,849.97 L678.30,841.94 Z" fill="#a6a6a6" stroke="none" stroke-width="0" />
<path d="M680.20,817.56 L694.70,824.54 L693.20,831.56 L679.00,823.65 Z" fill="#a6a6a6" stroke="none" stroke-width="0" />
<path d="M680.70,836.55 L694.20,842.95 L692.70,849.97 L679.50,842.65 Z" fill="#a6a6a6" stroke="none" stroke-width="0" />
<path d="M706.20,833.27 L720.70,840.25 L719.20,847.07 L705.00,839.16 Z" fill="#a6a6a6" stroke="none" stroke-width="0" />
<path d="M706.70,851.96 L720.70,858.65 L719.20,865.27 L705.50,857.66 Z" fill="#a6a6a6" stroke="none" stroke-width="0" />
<path d="M684.40,806.60 L687.50,805.80 L699.00,812.30 L698.60,814.20 L693.20,818.80 L690.50,817.50 Z" fill="#111" stroke="none" stroke-width="0" />
<path d="M690.00,845.00 L683.20,850.70 L696.30,857.00 Z" fill="#111" stroke="none" stroke-width="0" />
<line x1="688.50" y1="810.30" x2="691.50" y2="812.00" stroke="#bbb" stroke-width="0.9" />
<line x1="688.50" y1="851.00" x2="691.00" y2="852.40" stroke="#bbb" stroke-width="0.9" />
<line x1="668.20" y1="766.00" x2="668.20" y2="778.00" stroke="#8a8a8a" stroke-width="1.4" stroke-linecap="butt"/>
<rect x="666" y="777" width="4.4" height="5" fill="#8a8a8a"/>
<rect x="664.3" y="781.4" width="7.7" height="24.2" fill="#8a8a8a"/>
<line x1="667.40" y1="805.60" x2="667.40" y2="828.50" stroke="#9a9a9a" stroke-width="1.1" />
<line x1="670.40" y1="805.60" x2="670.40" y2="830.00" stroke="#9a9a9a" stroke-width="1.1" />
<path d="M170.8,722 L170.8,671.6 Q171.5,649.1 194,649.1 L259.8,649.1 Q282.9,650 282.9,672 L282.9,891.6 A70.7,83.2 0 0 0 353.6,974.8 L622,975.5 A68,52.1 0 0 0 690,923.4 L690,900" fill="none" stroke="#2a2a2a" stroke-width="1.05" />
<path d="M156.2,722 L156.2,675.8 Q157,634.2 190,634.2 L259.8,634.2 Q297.8,635 297.8,682 L297.8,889.5 A57.9,70.4 0 0 0 355.7,959.9 L620.5,960.6 A55.8,40.4 0 0 0 676.3,920.2 L676.3,900" fill="none" stroke="#2a2a2a" stroke-width="1.05" />
<path d="M190.20,757.30 L235.92,783.17 Q238.10,784.40 238.10,786.90 L238.10,809.60 Q238.10,812.10 235.90,813.29 L229.90,816.51 Q227.70,817.70 225.43,816.64 L207.81,808.42 Q206.90,808.00 205.92,807.80 L193.00,805.20 L190.00,790.00 Z" fill="#fff" stroke="#1c1c1c" stroke-width="1.1" />
<path d="M193.00,778.80 L206.90,779.50 L206.90,808.00" fill="none" stroke="#1c1c1c" stroke-width="1.0" />
<path d="M227.7,817.7 L227.7,790 L238.1,784.4 M227.7,790 L206.9,779.5" fill="none" stroke="#1c1c1c" stroke-width="1.0" />
<ellipse cx="216.60" cy="800.30" rx="5.60" ry="7.30" fill="#fff" stroke="#1c1c1c" stroke-width="1.1" transform="rotate(-10 216.60 800.30)" />
<path d="M136.6,783 L136.6,812 Q137,815 140,816.5 L147,820 Q150,823 154,822.3 L158,823.8 L176,823 L181,820 Q186,819.5 187.5,816 L192.8,812 L192.8,780 Z" fill="#fff" stroke="#1c1c1c" stroke-width="1.1" />
<path d="M140.8,818 L140.8,795 Q143.65,791.5 146.5,795 L146.5,818" fill="none" stroke="#1c1c1c" stroke-width="1.0" />
<path d="M151.5,821.5 L151.5,800 Q154.5,796.5 157.5,800 L157.5,821.5" fill="none" stroke="#1c1c1c" stroke-width="1.0" />
<path d="M163,823 L163,802 Q166.0,798.5 169,802 L169,823" fill="none" stroke="#1c1c1c" stroke-width="1.0" />
<path d="M176.5,820 L176.5,799 Q179.5,795.5 182.5,799 L182.5,820" fill="none" stroke="#1c1c1c" stroke-width="1.0" />
<line x1="188.30" y1="792.00" x2="188.30" y2="815.00" stroke="#1c1c1c" stroke-width="0.9" />
<path d="M135.40,770.70 L135.40,782.20 L157.40,792.60 L188.00,786.30 L194.30,776.00 L194.30,764.50 L170.00,758.00 L143.00,762.00 Z" fill="#fff" stroke="#1c1c1c" stroke-width="1.1" />
<path d="M135.40,770.70 L157.40,781.10 L188.00,778.00 L194.30,764.50" fill="none" stroke="#1c1c1c" stroke-width="1.1" />
<line x1="157.40" y1="781.10" x2="157.40" y2="792.60" stroke="#1c1c1c" stroke-width="1.0" />
<line x1="188.00" y1="778.00" x2="188.00" y2="786.30" stroke="#1c1c1c" stroke-width="1.0" />
<path d="M143.3,762 L143.3,768 A20.9,8.6 0 0 0 185,768 L185,758" fill="#fff" stroke="#1c1c1c" stroke-width="1.0" />
<path d="M140.2,733.00 L140.2,722.00 A25,17.3 0 0 1 190.1,722.00 L190.1,733.00 A25,17.5 0 0 1 140.2,733.00 Z" fill="#fff" stroke="#1c1c1c" stroke-width="1.1" />
<path d="M135.40,731.20 L142.00,727.30 L188.50,725.00 L195.30,721.80 L195.30,745.80 L187.00,761.40 L157.40,766.60 L135.40,755.10 Z" fill="#fff" stroke="#1c1c1c" stroke-width="1.1" />
<path d="M140.2,722.00 A25,17.3 0 0 1 190.1,722.00 L190.1,724.00 A25,17.2 0 0 1 140.2,724.00 Z" fill="#fff" stroke="#1c1c1c" stroke-width="1.1" />
<path d="M135.40,731.20 L157.40,743.70 L187.00,739.50 L195.30,721.80" fill="none" stroke="#1c1c1c" stroke-width="1.1" />
<path d="M157.40,743.70 L162.00,743.10 L162.00,765.80 L157.40,766.60 Z" fill="#111" stroke="#1c1c1c" stroke-width="0.6" />
<path d="M182.60,740.10 L187.00,739.50 L187.00,761.40 L182.60,762.20 Z" fill="#111" stroke="#1c1c1c" stroke-width="0.6" />
<line x1="157.40" y1="743.70" x2="157.40" y2="766.60" stroke="#1c1c1c" stroke-width="1.0" />
<line x1="187.00" y1="739.50" x2="187.00" y2="761.40" stroke="#1c1c1c" stroke-width="1.0" />
<line x1="194.80" y1="723.50" x2="194.80" y2="745.00" stroke="#111" stroke-width="1.9" />
<path d="M156.2,700 L156.2,716 A7.3,3.2 0 0 0 170.8,716 L170.8,700" fill="#fff" stroke="#2a2a2a" stroke-width="1.05" />
<path d="M134.7,1100 L134.7,1123.8 A5.700000000000003,5.700000000000003 0 0 0 146.1,1123.8 L146.1,1100" fill="#fff" stroke="#1c1c1c" stroke-width="1.05" />
<path d="M156.5,1100 L156.5,1175.1 A5.900000000000006,5.900000000000006 0 0 0 168.3,1175.1 L168.3,1100" fill="#fff" stroke="#1c1c1c" stroke-width="1.05" />
<path d="M181.5,1100 L181.5,1160.75 A5.75,5.75 0 0 0 193,1160.75 L193,1100" fill="#fff" stroke="#1c1c1c" stroke-width="1.05" />
<path d="M123.6,926 L123.6,1094 A41.7,18 0 0 0 207.0,1094 L207.0,926 A41.7,21 0 0 0 123.6,926 Z" fill="#fff" stroke="#1c1c1c" stroke-width="1.1" />
<path d="M207.00,926.00 A41.70,21.00 0 0 1 123.60,926.00" fill="none" stroke="#1c1c1c" stroke-width="1.1" />
<path d="M135.00,901.90 L136.30,912.00 L143.50,930.40 L173.30,935.30 L194.50,923.10 L194.50,905.00 Z" fill="#fff" stroke="#1c1c1c" stroke-width="1.1" />
<path d="M135.00,901.90 L144.10,919.50 L172.70,924.30 L194.50,912.20" fill="none" stroke="#1c1c1c" stroke-width="1.0" />
<line x1="144.10" y1="919.50" x2="143.50" y2="930.40" stroke="#1c1c1c" stroke-width="1.0" />
<line x1="172.70" y1="924.30" x2="173.30" y2="935.30" stroke="#1c1c1c" stroke-width="1.0" />
<ellipse cx="193.40" cy="1065.20" rx="6.20" ry="10.60" fill="#fff" stroke="#1c1c1c" stroke-width="1.1" transform="rotate(28 193.40 1065.20)" />
<path d="M189.6,1073.5 Q189.5,1066 198.6,1058.6" fill="none" stroke="#1c1c1c" stroke-width="0.9" />
<path d="M190,1074 L198.4,1058.2" fill="none" stroke="#1c1c1c" stroke-width="0.9" />
<path d="M143.3,898 L143.3,906 A20.9,8.6 0 0 0 185,906 L185,896" fill="#fff" stroke="#1c1c1c" stroke-width="1.0" />
<path d="M140.2,874.60 L140.2,863.60 A25,17.3 0 0 1 190.1,863.60 L190.1,874.60 A25,17.5 0 0 1 140.2,874.60 Z" fill="#fff" stroke="#1c1c1c" stroke-width="1.1" />
<path d="M135.40,872.80 L142.00,868.90 L188.50,866.60 L195.30,863.40 L195.30,887.40 L187.00,903.00 L154.60,908.20 L135.40,896.70 Z" fill="#fff" stroke="#1c1c1c" stroke-width="1.1" />
<path d="M140.2,863.60 A25,17.3 0 0 1 190.1,863.60 L190.1,865.60 A25,17.2 0 0 1 140.2,865.60 Z" fill="#fff" stroke="#1c1c1c" stroke-width="1.1" />
<path d="M135.40,872.80 L154.60,885.30 L187.00,881.10 L195.30,863.40" fill="none" stroke="#1c1c1c" stroke-width="1.1" />
<path d="M154.60,885.30 L159.20,884.70 L159.20,907.40 L154.60,908.20 Z" fill="#111" stroke="#1c1c1c" stroke-width="0.6" />
<path d="M182.60,881.70 L187.00,881.10 L187.00,903.00 L182.60,903.80 Z" fill="#111" stroke="#1c1c1c" stroke-width="0.6" />
<path d="M135.40,872.80 L139.00,874.90 L139.00,898.60 L135.40,896.70 Z" fill="#111" stroke="#1c1c1c" stroke-width="0.6" />
<line x1="154.60" y1="885.30" x2="154.60" y2="908.20" stroke="#1c1c1c" stroke-width="1.0" />
<line x1="187.00" y1="881.10" x2="187.00" y2="903.00" stroke="#1c1c1c" stroke-width="1.0" />
<line x1="194.80" y1="865.10" x2="194.80" y2="886.60" stroke="#111" stroke-width="1.9" />
<path d="M156.3,823.5 L156.3,857.5 A8.6,3.6 0 0 0 173.5,857.5 L173.5,823.5" fill="#fff" stroke="#2a2a2a" stroke-width="1.05" />
<line x1="733.00" y1="897.50" x2="733.20" y2="1014.00" stroke="#2a2a2a" stroke-width="1.05" />
<line x1="747.40" y1="899.50" x2="748.00" y2="1014.00" stroke="#2a2a2a" stroke-width="1.05" />
<path d="M721,1077.9 L662.7,1106.4 Q652,1111 650.6,1115.2 L650.6,1124 L646.2,1126 L646.2,1136 L650.6,1139.4 Q655,1170 684.7,1193.2 L702,1201 L712,1201 L711,1192 L750.6,1172 L750.6,1165.7 L761.5,1159 L772,1143.7 L771.8,1088.9 L757.8,1074.8 Z" fill="#fff" stroke="#1c1c1c" stroke-width="1.1" />
<path d="M662,1106.5 Q684,1108 700,1128 Q716,1152 712.3,1192.3" fill="none" stroke="#1c1c1c" stroke-width="1.1" />
<path d="M741.6,1097.2 Q746.5,1112 750.4,1133.3 L750.4,1171.5" fill="none" stroke="#1c1c1c" stroke-width="1.0" />
<path d="M741.6,1097.2 L757.9,1088.6 M757.9,1077 L757.9,1160 M767.1,1092.5 L767.1,1151 M767.1,1092.5 L771.8,1088.9" fill="none" stroke="#1c1c1c" stroke-width="1.0" />
<path d="M714,1152.4 L750.4,1133.3 L757.9,1129.5" fill="none" stroke="#1c1c1c" stroke-width="1.0" />
<path d="M716.5,1191 L750.6,1172" fill="none" stroke="#1c1c1c" stroke-width="1.0" />
<path d="M675.50,1116.00 L712.30,1092.10 L719.20,1095.20 L687.20,1117.70 L687.20,1127.30 L675.50,1121.20 Z" fill="#fff" stroke="#1c1c1c" stroke-width="1.0" />
<path d="M675.50,1116.00 L687.20,1121.80 L687.20,1117.70" fill="none" stroke="#1c1c1c" stroke-width="1.0" />
<path d="M679.50,1116.30 L712.40,1095.20 L715.60,1096.80" fill="none" stroke="#1c1c1c" stroke-width="0.9" />
<line x1="712.30" y1="1092.10" x2="712.40" y2="1095.20" stroke="#1c1c1c" stroke-width="0.9" />
<path d="M714.00,1167.20 L731.40,1158.50 L733.50,1159.40 L733.50,1169.80 L716.10,1179.30 L714.00,1178.00 Z" fill="#fff" stroke="#1c1c1c" stroke-width="1.0" />
<path d="M714.00,1167.20 L716.10,1168.60 L733.50,1159.40" fill="none" stroke="#1c1c1c" stroke-width="1.0" />
<line x1="716.10" y1="1168.60" x2="716.10" y2="1179.30" stroke="#1c1c1c" stroke-width="1.0" />
<line x1="714.00" y1="1178.00" x2="714.00" y2="1189.00" stroke="#1c1c1c" stroke-width="1.0" />
<path d="M673.70,1154.70 L673.70,1172.30 L684.70,1165.70 Z" fill="none" stroke="#1c1c1c" stroke-width="1.0" />
<path d="M673.3,1183.6 L673.3,1188.8 L677.6,1190.8 L677.6,1186.2 L689.8,1179 M689.8,1176.7 L689.8,1192.5 L677.6,1190.8" fill="none" stroke="#1c1c1c" stroke-width="1.0" />
<path d="M631.67,1165.91 L667.47,1147.31 L661.53,1135.89 L625.73,1154.49 Z" fill="#fff" stroke="none" stroke-width="0" />
<line x1="631.67" y1="1165.91" x2="667.47" y2="1147.31" stroke="#1c1c1c" stroke-width="1.05" />
<line x1="625.73" y1="1154.49" x2="661.53" y2="1135.89" stroke="#1c1c1c" stroke-width="1.05" />
<ellipse cx="628.70" cy="1160.20" rx="4.60" ry="6.90" fill="#fff" stroke="#1c1c1c" stroke-width="1.05" transform="rotate(-18 628.70 1160.20)" />
<path d="M667.47,1147.31 Q671.61,1142.72 668.58,1137.98 Q664.93,1133.70 661.53,1135.89" fill="#fff" stroke="#1c1c1c" stroke-width="1.0" />
<path d="M669.36,1190.07 L704.06,1171.37 L697.94,1160.03 L663.24,1178.73 Z" fill="#fff" stroke="none" stroke-width="0" />
<line x1="669.36" y1="1190.07" x2="704.06" y2="1171.37" stroke="#1c1c1c" stroke-width="1.05" />
<line x1="663.24" y1="1178.73" x2="697.94" y2="1160.03" stroke="#1c1c1c" stroke-width="1.05" />
<ellipse cx="666.30" cy="1184.40" rx="4.60" ry="6.90" fill="#fff" stroke="#1c1c1c" stroke-width="1.05" transform="rotate(-18 666.30 1184.40)" />
<path d="M704.06,1171.37 Q708.15,1166.73 705.05,1162.02 Q701.33,1157.80 697.94,1160.03" fill="#fff" stroke="#1c1c1c" stroke-width="1.0" />
<path d="M721.3,1013 L721.3,1080.5 A18.25,10 0 0 0 757.8,1080.5 L757.8,1013 A18.25,10.4 0 0 0 721.3,1013 Z" fill="#fff" stroke="#1c1c1c" stroke-width="1.1" />
<path d="M757.80,1013.00 A18.25,10.40 0 0 1 721.30,1013.00" fill="none" stroke="#1c1c1c" stroke-width="1.1" />
<path d="M733.2,1000 L733.2,1012.2 A7.4,3.2 0 0 0 748,1012.2 L748,1000" fill="#fff" stroke="#2a2a2a" stroke-width="1.05" />
<path d="M749.49,1012.06 A9.20,4.40 0 1 1 731.71,1012.06" fill="none" stroke="#1c1c1c" stroke-width="0.9" />
<path d="M729.9,1025.60 Q739.4,1028.20 749.0,1026.00 Q749.9,1026.20 749.8,1027.20 L749.6,1030.20 Q749.4,1031.20 748.4,1031.40 Q739.4,1033.60 730.2,1031.00 Q729.2,1030.70 729.2,1029.80 L729.1,1026.60 Q729.1,1025.60 729.9,1025.60 Z" fill="none" stroke="#1c1c1c" stroke-width="0.95" />
<path d="M729.9,1033.52 Q739.4,1036.12 749.0,1033.92 Q749.9,1034.12 749.8,1035.12 L749.6,1038.12 Q749.4,1039.12 748.4,1039.32 Q739.4,1041.52 730.2,1038.92 Q729.2,1038.62 729.2,1037.72 L729.1,1034.52 Q729.1,1033.52 729.9,1033.52 Z" fill="none" stroke="#1c1c1c" stroke-width="0.95" />
<path d="M729.9,1041.44 Q739.4,1044.04 749.0,1041.84 Q749.9,1042.04 749.8,1043.04 L749.6,1046.04 Q749.4,1047.04 748.4,1047.24 Q739.4,1049.44 730.2,1046.84 Q729.2,1046.54 729.2,1045.64 L729.1,1042.44 Q729.1,1041.44 729.9,1041.44 Z" fill="none" stroke="#1c1c1c" stroke-width="0.95" />
<path d="M729.9,1049.36 Q739.4,1051.96 749.0,1049.76 Q749.9,1049.96 749.8,1050.96 L749.6,1053.96 Q749.4,1054.96 748.4,1055.16 Q739.4,1057.36 730.2,1054.76 Q729.2,1054.46 729.2,1053.56 L729.1,1050.36 Q729.1,1049.36 729.9,1049.36 Z" fill="none" stroke="#1c1c1c" stroke-width="0.95" />
<path d="M729.9,1057.28 Q739.4,1059.88 749.0,1057.68 Q749.9,1057.88 749.8,1058.88 L749.6,1061.88 Q749.4,1062.88 748.4,1063.08 Q739.4,1065.28 730.2,1062.68 Q729.2,1062.38 729.2,1061.48 L729.1,1058.28 Q729.1,1057.28 729.9,1057.28 Z" fill="none" stroke="#1c1c1c" stroke-width="0.95" />
<path d="M729.9,1065.20 Q739.4,1067.80 749.0,1065.60 Q749.9,1065.80 749.8,1066.80 L749.6,1069.80 Q749.4,1070.80 748.4,1071.00 Q739.4,1073.20 730.2,1070.60 Q729.2,1070.30 729.2,1069.40 L729.1,1066.20 Q729.1,1065.20 729.9,1065.20 Z" fill="none" stroke="#1c1c1c" stroke-width="0.95" />
<path d="M721.8,1021.4 L724.8,1022.8 L724.8,1027.6 L721.8,1026.4" fill="none" stroke="#1c1c1c" stroke-width="0.95" />
<path d="M757.4,1020.8 L754.2,1022.8 L754.2,1027.8 L757.4,1025.8" fill="none" stroke="#1c1c1c" stroke-width="0.95" />
<path d="M721.8,1029.5 L724.8,1030.9 L724.8,1035.7 L721.8,1034.5" fill="none" stroke="#1c1c1c" stroke-width="0.95" />
<path d="M757.4,1028.9 L754.2,1030.9 L754.2,1035.9 L757.4,1033.9" fill="none" stroke="#1c1c1c" stroke-width="0.95" />
<path d="M721.8,1037.6 L724.8,1039.0 L724.8,1043.8 L721.8,1042.6" fill="none" stroke="#1c1c1c" stroke-width="0.95" />
<path d="M757.4,1037.0 L754.2,1039.0 L754.2,1044.0 L757.4,1042.0" fill="none" stroke="#1c1c1c" stroke-width="0.95" />
<path d="M721.8,1045.7 L724.8,1047.1 L724.8,1051.9 L721.8,1050.7" fill="none" stroke="#1c1c1c" stroke-width="0.95" />
<path d="M757.4,1045.1 L754.2,1047.1 L754.2,1052.1 L757.4,1050.1" fill="none" stroke="#1c1c1c" stroke-width="0.95" />
<path d="M721.8,1053.8 L724.8,1055.2 L724.8,1060.0 L721.8,1058.8" fill="none" stroke="#1c1c1c" stroke-width="0.95" />
<path d="M757.4,1053.2 L754.2,1055.2 L754.2,1060.2 L757.4,1058.2" fill="none" stroke="#1c1c1c" stroke-width="0.95" />
<path d="M721.8,1061.9 L724.8,1063.3 L724.8,1068.1 L721.8,1066.9" fill="none" stroke="#1c1c1c" stroke-width="0.95" />
<path d="M757.4,1061.3 L754.2,1063.3 L754.2,1068.3 L757.4,1066.3" fill="none" stroke="#1c1c1c" stroke-width="0.95" />
</svg></body></html>
